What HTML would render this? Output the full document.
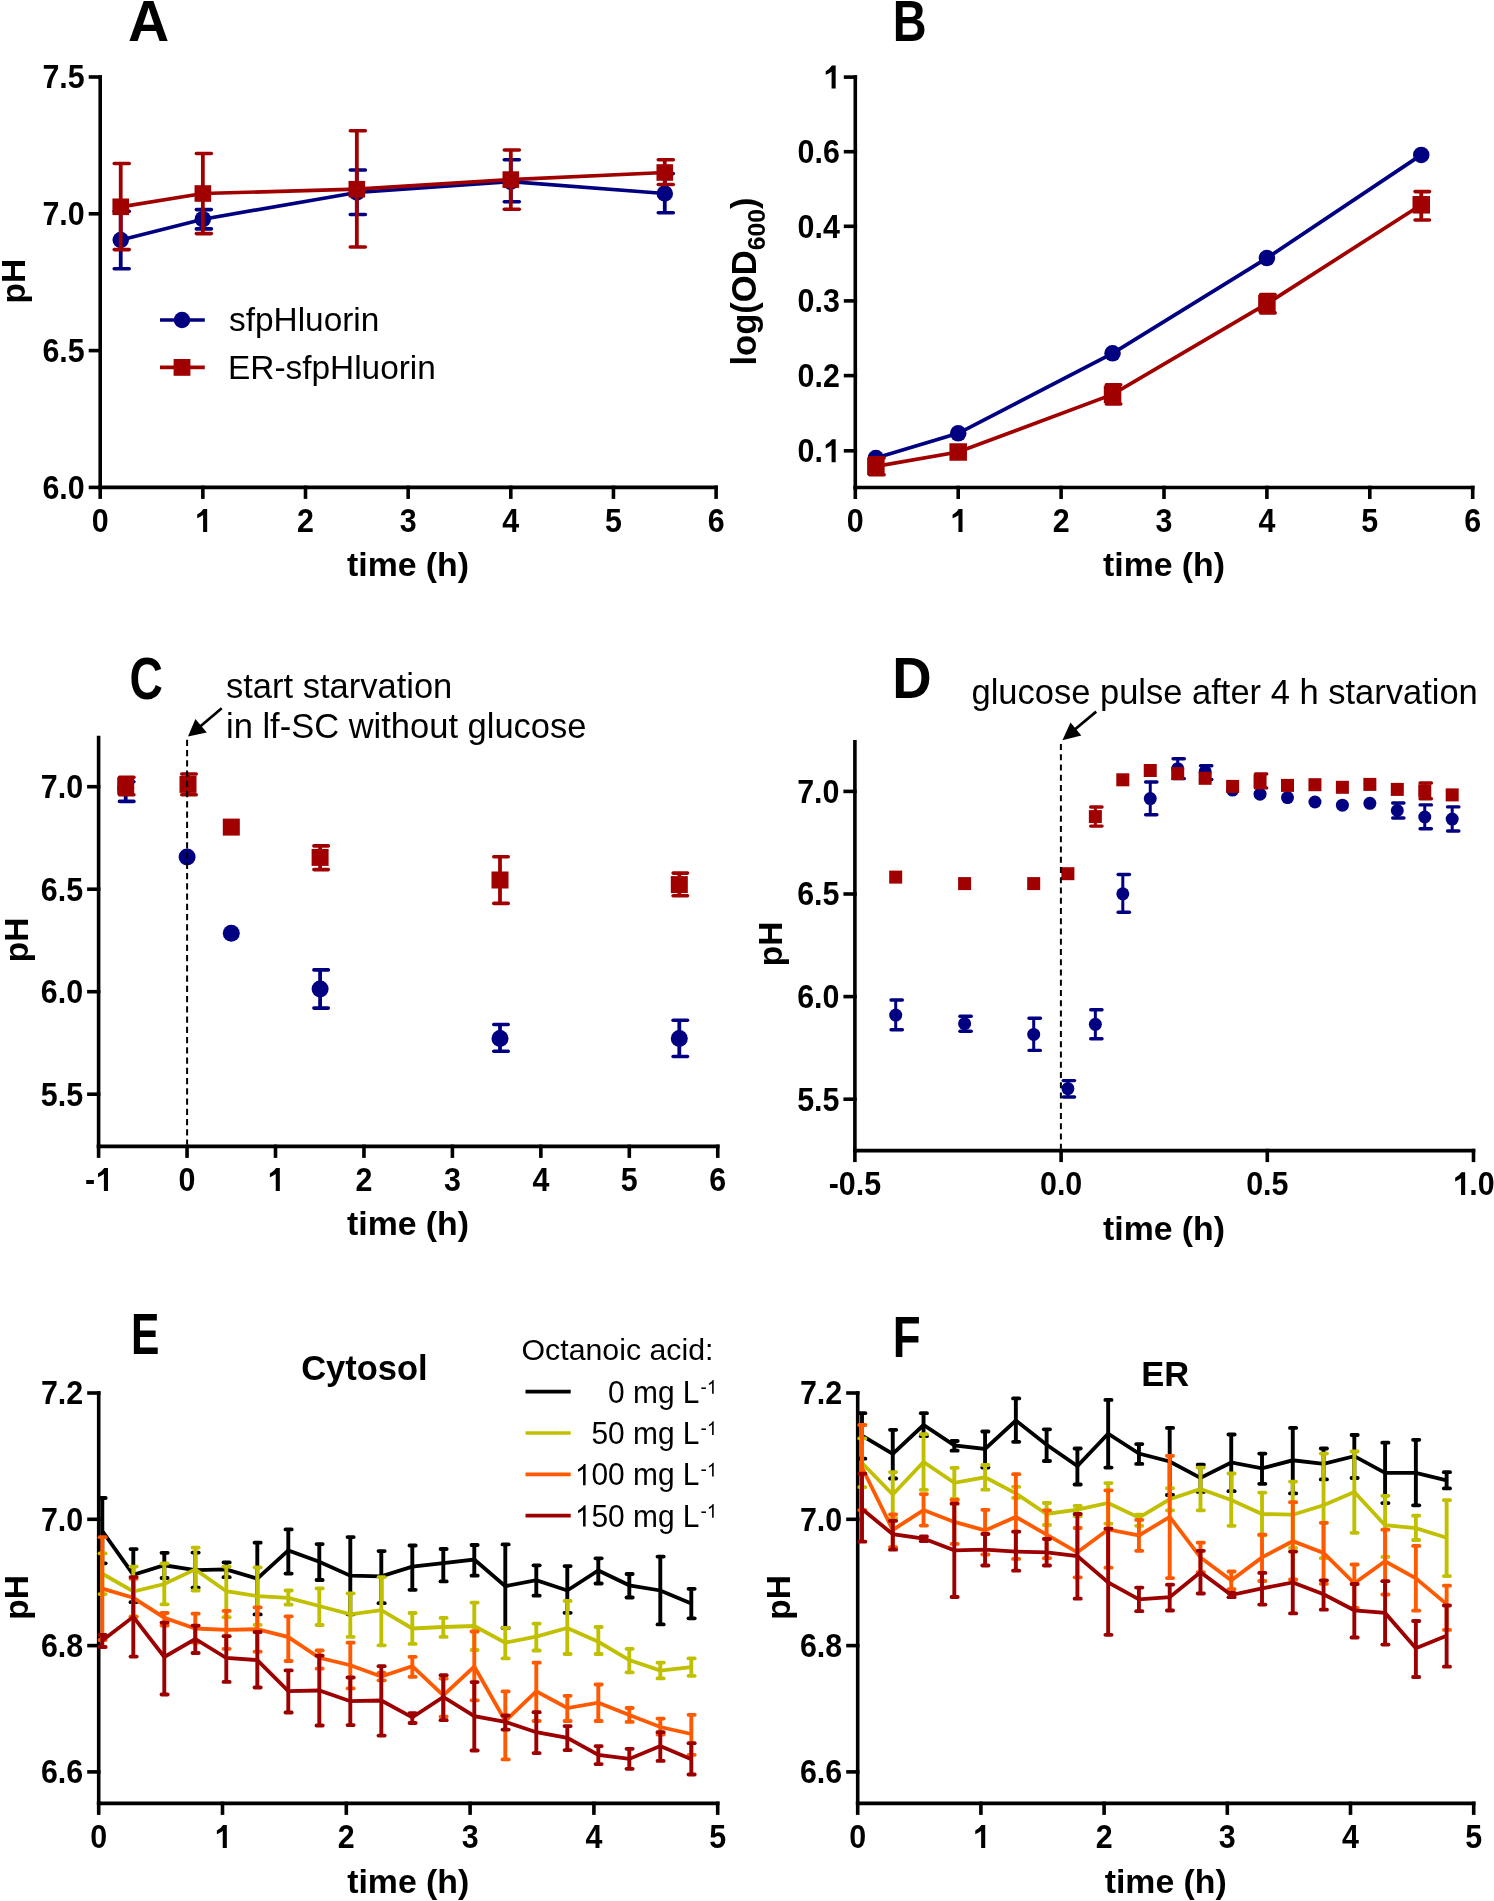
<!DOCTYPE html><html><head><meta charset="utf-8"><style>html,body{margin:0;padding:0;background:#fff;overflow:hidden}svg{display:block}text{font-family:"Liberation Sans",sans-serif}svg{will-change:transform}</style></head><body>
<svg width="1494" height="1901" viewBox="0 0 1494 1901">
<rect width="1494" height="1901" fill="#fff"/>
<text transform="translate(148.50 40.60)" font-size="57" font-weight="bold" text-anchor="middle" fill="#000">A</text>
<line x1="100.20" y1="75.20" x2="100.20" y2="489.20" stroke="#000" stroke-width="3.6" stroke-linecap="butt"/>
<line x1="88.70" y1="77.00" x2="102.00" y2="77.00" stroke="#000" stroke-width="3.6" stroke-linecap="butt"/>
<g transform="translate(84.70 88.40) scale(0.95 1.04)" fill="#000"><text x="-44.48" y="0" font-size="32" font-weight="bold" style="white-space:pre">7.5</text></g>
<line x1="88.70" y1="213.80" x2="102.00" y2="213.80" stroke="#000" stroke-width="3.6" stroke-linecap="butt"/>
<g transform="translate(84.70 225.20) scale(0.95 1.04)" fill="#000"><text x="-44.48" y="0" font-size="32" font-weight="bold" style="white-space:pre">7.0</text></g>
<line x1="88.70" y1="350.60" x2="102.00" y2="350.60" stroke="#000" stroke-width="3.6" stroke-linecap="butt"/>
<g transform="translate(84.70 362.00) scale(0.95 1.04)" fill="#000"><text x="-44.48" y="0" font-size="32" font-weight="bold" style="white-space:pre">6.5</text></g>
<line x1="88.70" y1="487.40" x2="102.00" y2="487.40" stroke="#000" stroke-width="3.6" stroke-linecap="butt"/>
<g transform="translate(84.70 498.80) scale(0.95 1.04)" fill="#000"><text x="-44.48" y="0" font-size="32" font-weight="bold" style="white-space:pre">6.0</text></g>
<line x1="98.40" y1="487.40" x2="717.90" y2="487.40" stroke="#000" stroke-width="3.6" stroke-linecap="butt"/>
<line x1="100.20" y1="485.60" x2="100.20" y2="498.90" stroke="#000" stroke-width="3.6" stroke-linecap="butt"/>
<g transform="translate(100.20 531.90) scale(0.95 1.04)" fill="#000"><text x="-8.90" y="0" font-size="32" font-weight="bold" style="white-space:pre">0</text></g>
<line x1="202.85" y1="485.60" x2="202.85" y2="498.90" stroke="#000" stroke-width="3.6" stroke-linecap="butt"/>
<g transform="translate(202.85 531.90) scale(0.95 1.04)" fill="#000"><path transform="translate(-8.90 0) scale(0.01562 -0.01562)" d="M861 0H586V1037Q400 930 190 842V1067Q474 1200 608 1409H861Z"/></g>
<line x1="305.50" y1="485.60" x2="305.50" y2="498.90" stroke="#000" stroke-width="3.6" stroke-linecap="butt"/>
<g transform="translate(305.50 531.90) scale(0.95 1.04)" fill="#000"><text x="-8.90" y="0" font-size="32" font-weight="bold" style="white-space:pre">2</text></g>
<line x1="408.15" y1="485.60" x2="408.15" y2="498.90" stroke="#000" stroke-width="3.6" stroke-linecap="butt"/>
<g transform="translate(408.15 531.90) scale(0.95 1.04)" fill="#000"><text x="-8.90" y="0" font-size="32" font-weight="bold" style="white-space:pre">3</text></g>
<line x1="510.80" y1="485.60" x2="510.80" y2="498.90" stroke="#000" stroke-width="3.6" stroke-linecap="butt"/>
<g transform="translate(510.80 531.90) scale(0.95 1.04)" fill="#000"><text x="-8.90" y="0" font-size="32" font-weight="bold" style="white-space:pre">4</text></g>
<line x1="613.45" y1="485.60" x2="613.45" y2="498.90" stroke="#000" stroke-width="3.6" stroke-linecap="butt"/>
<g transform="translate(613.45 531.90) scale(0.95 1.04)" fill="#000"><text x="-8.90" y="0" font-size="32" font-weight="bold" style="white-space:pre">5</text></g>
<line x1="716.10" y1="485.60" x2="716.10" y2="498.90" stroke="#000" stroke-width="3.6" stroke-linecap="butt"/>
<g transform="translate(716.10 531.90) scale(0.95 1.04)" fill="#000"><text x="-8.90" y="0" font-size="32" font-weight="bold" style="white-space:pre">6</text></g>
<text transform="translate(408.00 576.40)" font-size="33.8" font-weight="bold" text-anchor="middle" fill="#000">time (h)</text>
<text transform="translate(24.70 281.20) rotate(-90)" font-size="33.5" font-weight="bold" text-anchor="middle" fill="#000">pH</text>
<line x1="120.73" y1="211.30" x2="120.73" y2="268.70" stroke="#000080" stroke-width="3.8" stroke-linecap="butt"/>
<line x1="114.23" y1="211.30" x2="129.23" y2="211.30" stroke="#000080" stroke-width="3.6" stroke-linecap="round"/>
<line x1="114.23" y1="268.70" x2="129.23" y2="268.70" stroke="#000080" stroke-width="3.6" stroke-linecap="round"/>
<line x1="202.85" y1="209.60" x2="202.85" y2="228.90" stroke="#000080" stroke-width="3.8" stroke-linecap="butt"/>
<line x1="196.35" y1="209.60" x2="211.35" y2="209.60" stroke="#000080" stroke-width="3.6" stroke-linecap="round"/>
<line x1="196.35" y1="228.90" x2="211.35" y2="228.90" stroke="#000080" stroke-width="3.6" stroke-linecap="round"/>
<line x1="356.82" y1="170.00" x2="356.82" y2="214.50" stroke="#000080" stroke-width="3.8" stroke-linecap="butt"/>
<line x1="350.32" y1="170.00" x2="365.32" y2="170.00" stroke="#000080" stroke-width="3.6" stroke-linecap="round"/>
<line x1="350.32" y1="214.50" x2="365.32" y2="214.50" stroke="#000080" stroke-width="3.6" stroke-linecap="round"/>
<line x1="510.80" y1="159.70" x2="510.80" y2="201.70" stroke="#000080" stroke-width="3.8" stroke-linecap="butt"/>
<line x1="504.30" y1="159.70" x2="519.30" y2="159.70" stroke="#000080" stroke-width="3.6" stroke-linecap="round"/>
<line x1="504.30" y1="201.70" x2="519.30" y2="201.70" stroke="#000080" stroke-width="3.6" stroke-linecap="round"/>
<line x1="664.78" y1="173.60" x2="664.78" y2="212.80" stroke="#000080" stroke-width="3.8" stroke-linecap="butt"/>
<line x1="658.28" y1="173.60" x2="673.28" y2="173.60" stroke="#000080" stroke-width="3.6" stroke-linecap="round"/>
<line x1="658.28" y1="212.80" x2="673.28" y2="212.80" stroke="#000080" stroke-width="3.6" stroke-linecap="round"/>
<polyline points="120.73,240.00 202.85,219.20 356.82,192.50 510.80,181.70 664.78,193.50" fill="none" stroke="#000080" stroke-width="3.7" stroke-linejoin="miter" stroke-miterlimit="3"/>
<circle cx="120.73" cy="240.00" r="8.25" fill="#000080"/>
<circle cx="202.85" cy="219.20" r="8.25" fill="#000080"/>
<circle cx="356.82" cy="192.50" r="8.25" fill="#000080"/>
<circle cx="510.80" cy="181.70" r="8.25" fill="#000080"/>
<circle cx="664.78" cy="193.50" r="8.25" fill="#000080"/>
<line x1="120.73" y1="163.50" x2="120.73" y2="249.60" stroke="#a00000" stroke-width="3.8" stroke-linecap="butt"/>
<line x1="114.23" y1="163.50" x2="129.23" y2="163.50" stroke="#a00000" stroke-width="3.6" stroke-linecap="round"/>
<line x1="114.23" y1="249.60" x2="129.23" y2="249.60" stroke="#a00000" stroke-width="3.6" stroke-linecap="round"/>
<line x1="202.85" y1="153.50" x2="202.85" y2="233.60" stroke="#a00000" stroke-width="3.8" stroke-linecap="butt"/>
<line x1="196.35" y1="153.50" x2="211.35" y2="153.50" stroke="#a00000" stroke-width="3.6" stroke-linecap="round"/>
<line x1="196.35" y1="233.60" x2="211.35" y2="233.60" stroke="#a00000" stroke-width="3.6" stroke-linecap="round"/>
<line x1="356.82" y1="130.80" x2="356.82" y2="247.00" stroke="#a00000" stroke-width="3.8" stroke-linecap="butt"/>
<line x1="350.32" y1="130.80" x2="365.32" y2="130.80" stroke="#a00000" stroke-width="3.6" stroke-linecap="round"/>
<line x1="350.32" y1="247.00" x2="365.32" y2="247.00" stroke="#a00000" stroke-width="3.6" stroke-linecap="round"/>
<line x1="510.80" y1="150.00" x2="510.80" y2="209.20" stroke="#a00000" stroke-width="3.8" stroke-linecap="butt"/>
<line x1="504.30" y1="150.00" x2="519.30" y2="150.00" stroke="#a00000" stroke-width="3.6" stroke-linecap="round"/>
<line x1="504.30" y1="209.20" x2="519.30" y2="209.20" stroke="#a00000" stroke-width="3.6" stroke-linecap="round"/>
<line x1="664.78" y1="159.70" x2="664.78" y2="184.50" stroke="#a00000" stroke-width="3.8" stroke-linecap="butt"/>
<line x1="658.28" y1="159.70" x2="673.28" y2="159.70" stroke="#a00000" stroke-width="3.6" stroke-linecap="round"/>
<line x1="658.28" y1="184.50" x2="673.28" y2="184.50" stroke="#a00000" stroke-width="3.6" stroke-linecap="round"/>
<polyline points="120.73,206.80 202.85,193.50 356.82,189.20 510.80,179.60 664.78,172.50" fill="none" stroke="#a00000" stroke-width="3.7" stroke-linejoin="miter" stroke-miterlimit="3"/>
<rect x="112.43" y="198.50" width="16.60" height="16.60" fill="#a00000"/>
<rect x="194.55" y="185.20" width="16.60" height="16.60" fill="#a00000"/>
<rect x="348.52" y="180.90" width="16.60" height="16.60" fill="#a00000"/>
<rect x="502.50" y="171.30" width="16.60" height="16.60" fill="#a00000"/>
<rect x="656.48" y="164.20" width="16.60" height="16.60" fill="#a00000"/>
<line x1="160.00" y1="320.00" x2="204.80" y2="320.00" stroke="#000080" stroke-width="3.5" stroke-linecap="butt"/>
<circle cx="182.00" cy="320.00" r="8.25" fill="#000080"/>
<line x1="160.00" y1="367.40" x2="204.80" y2="367.40" stroke="#a00000" stroke-width="3.6" stroke-linecap="butt"/>
<rect x="173.60" y="359.00" width="16.80" height="16.80" fill="#a00000"/>
<text transform="translate(229.00 330.80)" font-size="33.4" font-weight="normal" text-anchor="start" fill="#000">sfpHluorin</text>
<text transform="translate(228.00 378.60)" font-size="33.4" font-weight="normal" text-anchor="start" fill="#000">ER-sfpHluorin</text>
<text transform="translate(909.70 41.20) scale(0.823 1.0)" font-size="57" font-weight="bold" text-anchor="middle" fill="#000">B</text>
<line x1="855.30" y1="75.30" x2="855.30" y2="489.30" stroke="#000" stroke-width="3.6" stroke-linecap="butt"/>
<line x1="843.80" y1="77.10" x2="857.10" y2="77.10" stroke="#000" stroke-width="3.6" stroke-linecap="butt"/>
<g transform="translate(839.80 88.50) scale(0.95 1.04)" fill="#000"><path transform="translate(-17.80 0) scale(0.01562 -0.01562)" d="M861 0H586V1037Q400 930 190 842V1067Q474 1200 608 1409H861Z"/></g>
<line x1="843.80" y1="151.70" x2="857.10" y2="151.70" stroke="#000" stroke-width="3.6" stroke-linecap="butt"/>
<g transform="translate(839.80 163.10) scale(0.95 1.04)" fill="#000"><text x="-44.48" y="0" font-size="32" font-weight="bold" style="white-space:pre">0.6</text></g>
<line x1="843.80" y1="226.30" x2="857.10" y2="226.30" stroke="#000" stroke-width="3.6" stroke-linecap="butt"/>
<g transform="translate(839.80 237.70) scale(0.95 1.04)" fill="#000"><text x="-44.48" y="0" font-size="32" font-weight="bold" style="white-space:pre">0.4</text></g>
<line x1="843.80" y1="300.90" x2="857.10" y2="300.90" stroke="#000" stroke-width="3.6" stroke-linecap="butt"/>
<g transform="translate(839.80 312.30) scale(0.95 1.04)" fill="#000"><text x="-44.48" y="0" font-size="32" font-weight="bold" style="white-space:pre">0.3</text></g>
<line x1="843.80" y1="375.60" x2="857.10" y2="375.60" stroke="#000" stroke-width="3.6" stroke-linecap="butt"/>
<g transform="translate(839.80 387.00) scale(0.95 1.04)" fill="#000"><text x="-44.48" y="0" font-size="32" font-weight="bold" style="white-space:pre">0.2</text></g>
<line x1="843.80" y1="450.80" x2="857.10" y2="450.80" stroke="#000" stroke-width="3.6" stroke-linecap="butt"/>
<g transform="translate(839.80 462.20) scale(0.95 1.04)" fill="#000"><text x="-44.48" y="0" font-size="32" font-weight="bold" style="white-space:pre">0.</text><path transform="translate(-17.80 0) scale(0.01562 -0.01562)" d="M861 0H586V1037Q400 930 190 842V1067Q474 1200 608 1409H861Z"/></g>
<line x1="853.50" y1="487.50" x2="1474.50" y2="487.50" stroke="#000" stroke-width="3.6" stroke-linecap="butt"/>
<line x1="855.30" y1="485.70" x2="855.30" y2="499.00" stroke="#000" stroke-width="3.6" stroke-linecap="butt"/>
<g transform="translate(855.30 532.00) scale(0.95 1.04)" fill="#000"><text x="-8.90" y="0" font-size="32" font-weight="bold" style="white-space:pre">0</text></g>
<line x1="958.20" y1="485.70" x2="958.20" y2="499.00" stroke="#000" stroke-width="3.6" stroke-linecap="butt"/>
<g transform="translate(958.20 532.00) scale(0.95 1.04)" fill="#000"><path transform="translate(-8.90 0) scale(0.01562 -0.01562)" d="M861 0H586V1037Q400 930 190 842V1067Q474 1200 608 1409H861Z"/></g>
<line x1="1061.10" y1="485.70" x2="1061.10" y2="499.00" stroke="#000" stroke-width="3.6" stroke-linecap="butt"/>
<g transform="translate(1061.10 532.00) scale(0.95 1.04)" fill="#000"><text x="-8.90" y="0" font-size="32" font-weight="bold" style="white-space:pre">2</text></g>
<line x1="1164.00" y1="485.70" x2="1164.00" y2="499.00" stroke="#000" stroke-width="3.6" stroke-linecap="butt"/>
<g transform="translate(1164.00 532.00) scale(0.95 1.04)" fill="#000"><text x="-8.90" y="0" font-size="32" font-weight="bold" style="white-space:pre">3</text></g>
<line x1="1266.90" y1="485.70" x2="1266.90" y2="499.00" stroke="#000" stroke-width="3.6" stroke-linecap="butt"/>
<g transform="translate(1266.90 532.00) scale(0.95 1.04)" fill="#000"><text x="-8.90" y="0" font-size="32" font-weight="bold" style="white-space:pre">4</text></g>
<line x1="1369.80" y1="485.70" x2="1369.80" y2="499.00" stroke="#000" stroke-width="3.6" stroke-linecap="butt"/>
<g transform="translate(1369.80 532.00) scale(0.95 1.04)" fill="#000"><text x="-8.90" y="0" font-size="32" font-weight="bold" style="white-space:pre">5</text></g>
<line x1="1472.70" y1="485.70" x2="1472.70" y2="499.00" stroke="#000" stroke-width="3.6" stroke-linecap="butt"/>
<g transform="translate(1472.70 532.00) scale(0.95 1.04)" fill="#000"><text x="-8.90" y="0" font-size="32" font-weight="bold" style="white-space:pre">6</text></g>
<text transform="translate(1164.00 576.40)" font-size="33.8" font-weight="bold" text-anchor="middle" fill="#000">time (h)</text>
<text transform="translate(756.2 281.5) rotate(-90)" font-size="34.6" font-weight="bold" text-anchor="middle">log(OD<tspan font-size="24.8" dy="8.7">600</tspan><tspan dy="-8.7">)</tspan></text>
<polyline points="875.88,458.00 958.20,433.30 1112.55,353.30 1266.90,258.10 1421.25,154.90" fill="none" stroke="#000080" stroke-width="3.7" stroke-linejoin="miter" stroke-miterlimit="3"/>
<circle cx="875.88" cy="458.00" r="8.25" fill="#000080"/>
<circle cx="958.20" cy="433.30" r="8.25" fill="#000080"/>
<circle cx="1112.55" cy="353.30" r="8.25" fill="#000080"/>
<circle cx="1266.90" cy="258.10" r="8.25" fill="#000080"/>
<circle cx="1421.25" cy="154.90" r="8.25" fill="#000080"/>
<line x1="875.88" y1="457.90" x2="875.88" y2="474.80" stroke="#a00000" stroke-width="3.8" stroke-linecap="butt"/>
<line x1="869.68" y1="457.90" x2="884.08" y2="457.90" stroke="#a00000" stroke-width="3.6" stroke-linecap="round"/>
<line x1="869.68" y1="474.80" x2="884.08" y2="474.80" stroke="#a00000" stroke-width="3.6" stroke-linecap="round"/>
<line x1="1112.55" y1="384.80" x2="1112.55" y2="404.00" stroke="#a00000" stroke-width="3.8" stroke-linecap="butt"/>
<line x1="1106.35" y1="384.80" x2="1120.75" y2="384.80" stroke="#a00000" stroke-width="3.6" stroke-linecap="round"/>
<line x1="1106.35" y1="404.00" x2="1120.75" y2="404.00" stroke="#a00000" stroke-width="3.6" stroke-linecap="round"/>
<line x1="1266.90" y1="294.60" x2="1266.90" y2="312.90" stroke="#a00000" stroke-width="3.8" stroke-linecap="butt"/>
<line x1="1260.70" y1="294.60" x2="1275.10" y2="294.60" stroke="#a00000" stroke-width="3.6" stroke-linecap="round"/>
<line x1="1260.70" y1="312.90" x2="1275.10" y2="312.90" stroke="#a00000" stroke-width="3.6" stroke-linecap="round"/>
<line x1="1421.25" y1="191.60" x2="1421.25" y2="220.00" stroke="#a00000" stroke-width="3.8" stroke-linecap="butt"/>
<line x1="1415.05" y1="191.60" x2="1429.45" y2="191.60" stroke="#a00000" stroke-width="3.6" stroke-linecap="round"/>
<line x1="1415.05" y1="220.00" x2="1429.45" y2="220.00" stroke="#a00000" stroke-width="3.6" stroke-linecap="round"/>
<polyline points="875.88,466.40 958.20,452.00 1112.55,394.40 1266.90,303.70 1421.25,204.80" fill="none" stroke="#a00000" stroke-width="3.7" stroke-linejoin="miter" stroke-miterlimit="3"/>
<rect x="867.13" y="457.65" width="17.50" height="17.50" fill="#a00000"/>
<rect x="949.45" y="443.25" width="17.50" height="17.50" fill="#a00000"/>
<rect x="1103.80" y="385.65" width="17.50" height="17.50" fill="#a00000"/>
<rect x="1258.15" y="294.95" width="17.50" height="17.50" fill="#a00000"/>
<rect x="1412.50" y="196.05" width="17.50" height="17.50" fill="#a00000"/>
<text transform="translate(146.20 698.90) scale(0.81 1.03)" font-size="57" font-weight="bold" text-anchor="middle" fill="#000">C</text>
<line x1="98.60" y1="735.70" x2="98.60" y2="1148.20" stroke="#000" stroke-width="3.6" stroke-linecap="butt"/>
<line x1="87.10" y1="786.70" x2="100.40" y2="786.70" stroke="#000" stroke-width="3.6" stroke-linecap="butt"/>
<g transform="translate(83.10 798.10) scale(0.95 1.04)" fill="#000"><text x="-44.48" y="0" font-size="32" font-weight="bold" style="white-space:pre">7.0</text></g>
<line x1="87.10" y1="889.20" x2="100.40" y2="889.20" stroke="#000" stroke-width="3.6" stroke-linecap="butt"/>
<g transform="translate(83.10 900.60) scale(0.95 1.04)" fill="#000"><text x="-44.48" y="0" font-size="32" font-weight="bold" style="white-space:pre">6.5</text></g>
<line x1="87.10" y1="991.70" x2="100.40" y2="991.70" stroke="#000" stroke-width="3.6" stroke-linecap="butt"/>
<g transform="translate(83.10 1003.10) scale(0.95 1.04)" fill="#000"><text x="-44.48" y="0" font-size="32" font-weight="bold" style="white-space:pre">6.0</text></g>
<line x1="87.10" y1="1094.20" x2="100.40" y2="1094.20" stroke="#000" stroke-width="3.6" stroke-linecap="butt"/>
<g transform="translate(83.10 1105.60) scale(0.95 1.04)" fill="#000"><text x="-44.48" y="0" font-size="32" font-weight="bold" style="white-space:pre">5.5</text></g>
<line x1="96.80" y1="1146.40" x2="719.55" y2="1146.40" stroke="#000" stroke-width="3.6" stroke-linecap="butt"/>
<line x1="98.60" y1="1144.60" x2="98.60" y2="1157.90" stroke="#000" stroke-width="3.6" stroke-linecap="butt"/>
<g transform="translate(98.60 1190.90) scale(0.95 1.04)" fill="#000"><text x="-14.23" y="0" font-size="32" font-weight="bold" style="white-space:pre">-</text><path transform="translate(-3.57 0) scale(0.01562 -0.01562)" d="M861 0H586V1037Q400 930 190 842V1067Q474 1200 608 1409H861Z"/></g>
<line x1="187.05" y1="1144.60" x2="187.05" y2="1157.90" stroke="#000" stroke-width="3.6" stroke-linecap="butt"/>
<g transform="translate(187.05 1190.90) scale(0.95 1.04)" fill="#000"><text x="-8.90" y="0" font-size="32" font-weight="bold" style="white-space:pre">0</text></g>
<line x1="275.50" y1="1144.60" x2="275.50" y2="1157.90" stroke="#000" stroke-width="3.6" stroke-linecap="butt"/>
<g transform="translate(275.50 1190.90) scale(0.95 1.04)" fill="#000"><path transform="translate(-8.90 0) scale(0.01562 -0.01562)" d="M861 0H586V1037Q400 930 190 842V1067Q474 1200 608 1409H861Z"/></g>
<line x1="363.95" y1="1144.60" x2="363.95" y2="1157.90" stroke="#000" stroke-width="3.6" stroke-linecap="butt"/>
<g transform="translate(363.95 1190.90) scale(0.95 1.04)" fill="#000"><text x="-8.90" y="0" font-size="32" font-weight="bold" style="white-space:pre">2</text></g>
<line x1="452.40" y1="1144.60" x2="452.40" y2="1157.90" stroke="#000" stroke-width="3.6" stroke-linecap="butt"/>
<g transform="translate(452.40 1190.90) scale(0.95 1.04)" fill="#000"><text x="-8.90" y="0" font-size="32" font-weight="bold" style="white-space:pre">3</text></g>
<line x1="540.85" y1="1144.60" x2="540.85" y2="1157.90" stroke="#000" stroke-width="3.6" stroke-linecap="butt"/>
<g transform="translate(540.85 1190.90) scale(0.95 1.04)" fill="#000"><text x="-8.90" y="0" font-size="32" font-weight="bold" style="white-space:pre">4</text></g>
<line x1="629.30" y1="1144.60" x2="629.30" y2="1157.90" stroke="#000" stroke-width="3.6" stroke-linecap="butt"/>
<g transform="translate(629.30 1190.90) scale(0.95 1.04)" fill="#000"><text x="-8.90" y="0" font-size="32" font-weight="bold" style="white-space:pre">5</text></g>
<line x1="717.75" y1="1144.60" x2="717.75" y2="1157.90" stroke="#000" stroke-width="3.6" stroke-linecap="butt"/>
<g transform="translate(717.75 1190.90) scale(0.95 1.04)" fill="#000"><text x="-8.90" y="0" font-size="32" font-weight="bold" style="white-space:pre">6</text></g>
<text transform="translate(408.00 1235.20)" font-size="33.8" font-weight="bold" text-anchor="middle" fill="#000">time (h)</text>
<text transform="translate(27.90 940.00) rotate(-90)" font-size="33.5" font-weight="bold" text-anchor="middle" fill="#000">pH</text>
<line x1="221.7" y1="708.2" x2="199" y2="727.5" stroke="#000" stroke-width="2.7"/>
<polygon points="188,736.6 195.4,718.9 206.8,732.5" fill="#000"/>
<text transform="translate(226.00 697.50)" font-size="34.5" font-weight="normal" text-anchor="start" fill="#000">start starvation</text>
<text transform="translate(226.00 738.40)" font-size="34.5" font-weight="normal" text-anchor="start" fill="#000">in lf-SC without glucose</text>
<line x1="125.70" y1="781.80" x2="125.70" y2="801.40" stroke="#000080" stroke-width="3.8" stroke-linecap="butt"/>
<line x1="119.50" y1="781.80" x2="133.90" y2="781.80" stroke="#000080" stroke-width="3.6" stroke-linecap="round"/>
<line x1="119.50" y1="801.40" x2="133.90" y2="801.40" stroke="#000080" stroke-width="3.6" stroke-linecap="round"/>
<circle cx="125.70" cy="788.00" r="8.50" fill="#000080"/>
<circle cx="187.10" cy="857.00" r="8.50" fill="#000080"/>
<circle cx="231.30" cy="933.30" r="8.50" fill="#000080"/>
<line x1="320.10" y1="969.90" x2="320.10" y2="1008.10" stroke="#000080" stroke-width="3.8" stroke-linecap="butt"/>
<line x1="313.90" y1="969.90" x2="328.30" y2="969.90" stroke="#000080" stroke-width="3.6" stroke-linecap="round"/>
<line x1="313.90" y1="1008.10" x2="328.30" y2="1008.10" stroke="#000080" stroke-width="3.6" stroke-linecap="round"/>
<circle cx="320.10" cy="989.00" r="8.50" fill="#000080"/>
<line x1="500.00" y1="1024.50" x2="500.00" y2="1051.30" stroke="#000080" stroke-width="3.8" stroke-linecap="butt"/>
<line x1="493.80" y1="1024.50" x2="508.20" y2="1024.50" stroke="#000080" stroke-width="3.6" stroke-linecap="round"/>
<line x1="493.80" y1="1051.30" x2="508.20" y2="1051.30" stroke="#000080" stroke-width="3.6" stroke-linecap="round"/>
<circle cx="500.00" cy="1038.40" r="8.50" fill="#000080"/>
<line x1="679.30" y1="1020.30" x2="679.30" y2="1056.50" stroke="#000080" stroke-width="3.8" stroke-linecap="butt"/>
<line x1="673.10" y1="1020.30" x2="687.50" y2="1020.30" stroke="#000080" stroke-width="3.6" stroke-linecap="round"/>
<line x1="673.10" y1="1056.50" x2="687.50" y2="1056.50" stroke="#000080" stroke-width="3.6" stroke-linecap="round"/>
<circle cx="679.30" cy="1038.40" r="8.50" fill="#000080"/>
<line x1="125.70" y1="777.30" x2="125.70" y2="794.80" stroke="#a00000" stroke-width="3.8" stroke-linecap="butt"/>
<line x1="119.50" y1="777.30" x2="133.90" y2="777.30" stroke="#a00000" stroke-width="3.6" stroke-linecap="round"/>
<line x1="119.50" y1="794.80" x2="133.90" y2="794.80" stroke="#a00000" stroke-width="3.6" stroke-linecap="round"/>
<rect x="117.20" y="777.50" width="17.00" height="17.00" fill="#a00000"/>
<line x1="188.00" y1="774.00" x2="188.00" y2="794.80" stroke="#a00000" stroke-width="3.8" stroke-linecap="butt"/>
<line x1="181.80" y1="774.00" x2="196.20" y2="774.00" stroke="#a00000" stroke-width="3.6" stroke-linecap="round"/>
<line x1="181.80" y1="794.80" x2="196.20" y2="794.80" stroke="#a00000" stroke-width="3.6" stroke-linecap="round"/>
<rect x="179.50" y="775.90" width="17.00" height="17.00" fill="#a00000"/>
<rect x="222.80" y="818.60" width="17.00" height="17.00" fill="#a00000"/>
<line x1="320.10" y1="845.90" x2="320.10" y2="869.60" stroke="#a00000" stroke-width="3.8" stroke-linecap="butt"/>
<line x1="313.90" y1="845.90" x2="328.30" y2="845.90" stroke="#a00000" stroke-width="3.6" stroke-linecap="round"/>
<line x1="313.90" y1="869.60" x2="328.30" y2="869.60" stroke="#a00000" stroke-width="3.6" stroke-linecap="round"/>
<rect x="311.60" y="848.90" width="17.00" height="17.00" fill="#a00000"/>
<line x1="500.00" y1="856.70" x2="500.00" y2="903.40" stroke="#a00000" stroke-width="3.8" stroke-linecap="butt"/>
<line x1="493.80" y1="856.70" x2="508.20" y2="856.70" stroke="#a00000" stroke-width="3.6" stroke-linecap="round"/>
<line x1="493.80" y1="903.40" x2="508.20" y2="903.40" stroke="#a00000" stroke-width="3.6" stroke-linecap="round"/>
<rect x="491.50" y="871.50" width="17.00" height="17.00" fill="#a00000"/>
<line x1="679.30" y1="873.10" x2="679.30" y2="895.70" stroke="#a00000" stroke-width="3.8" stroke-linecap="butt"/>
<line x1="673.10" y1="873.10" x2="687.50" y2="873.10" stroke="#a00000" stroke-width="3.6" stroke-linecap="round"/>
<line x1="673.10" y1="895.70" x2="687.50" y2="895.70" stroke="#a00000" stroke-width="3.6" stroke-linecap="round"/>
<rect x="670.80" y="876.10" width="17.00" height="17.00" fill="#a00000"/>
<line x1="187.10" y1="739.80" x2="187.10" y2="1144.60" stroke="#000" stroke-width="2.0" stroke-linecap="butt" stroke-dasharray="6.1 4.15"/>
<text transform="translate(912.00 698.00) scale(0.957 1.0)" font-size="57" font-weight="bold" text-anchor="middle" fill="#000">D</text>
<line x1="854.90" y1="740.00" x2="854.90" y2="1152.40" stroke="#000" stroke-width="3.6" stroke-linecap="butt"/>
<line x1="843.40" y1="791.40" x2="856.70" y2="791.40" stroke="#000" stroke-width="3.6" stroke-linecap="butt"/>
<g transform="translate(839.40 802.80) scale(0.95 1.04)" fill="#000"><text x="-44.48" y="0" font-size="32" font-weight="bold" style="white-space:pre">7.0</text></g>
<line x1="843.40" y1="894.00" x2="856.70" y2="894.00" stroke="#000" stroke-width="3.6" stroke-linecap="butt"/>
<g transform="translate(839.40 905.40) scale(0.95 1.04)" fill="#000"><text x="-44.48" y="0" font-size="32" font-weight="bold" style="white-space:pre">6.5</text></g>
<line x1="843.40" y1="996.60" x2="856.70" y2="996.60" stroke="#000" stroke-width="3.6" stroke-linecap="butt"/>
<g transform="translate(839.40 1008.00) scale(0.95 1.04)" fill="#000"><text x="-44.48" y="0" font-size="32" font-weight="bold" style="white-space:pre">6.0</text></g>
<line x1="843.40" y1="1099.20" x2="856.70" y2="1099.20" stroke="#000" stroke-width="3.6" stroke-linecap="butt"/>
<g transform="translate(839.40 1110.60) scale(0.95 1.04)" fill="#000"><text x="-44.48" y="0" font-size="32" font-weight="bold" style="white-space:pre">5.5</text></g>
<line x1="853.10" y1="1150.60" x2="1475.30" y2="1150.60" stroke="#000" stroke-width="3.6" stroke-linecap="butt"/>
<line x1="854.90" y1="1148.80" x2="854.90" y2="1162.10" stroke="#000" stroke-width="3.6" stroke-linecap="butt"/>
<g transform="translate(854.90 1195.10) scale(0.95 1.04)" fill="#000"><text x="-27.57" y="0" font-size="32" font-weight="bold" style="white-space:pre">-0.5</text></g>
<line x1="1061.10" y1="1148.80" x2="1061.10" y2="1162.10" stroke="#000" stroke-width="3.6" stroke-linecap="butt"/>
<g transform="translate(1061.10 1195.10) scale(0.95 1.04)" fill="#000"><text x="-22.24" y="0" font-size="32" font-weight="bold" style="white-space:pre">0.0</text></g>
<line x1="1267.30" y1="1148.80" x2="1267.30" y2="1162.10" stroke="#000" stroke-width="3.6" stroke-linecap="butt"/>
<g transform="translate(1267.30 1195.10) scale(0.95 1.04)" fill="#000"><text x="-22.24" y="0" font-size="32" font-weight="bold" style="white-space:pre">0.5</text></g>
<line x1="1473.50" y1="1148.80" x2="1473.50" y2="1162.10" stroke="#000" stroke-width="3.6" stroke-linecap="butt"/>
<g transform="translate(1473.50 1195.10) scale(0.95 1.04)" fill="#000"><path transform="translate(-22.24 0) scale(0.01562 -0.01562)" d="M861 0H586V1037Q400 930 190 842V1067Q474 1200 608 1409H861Z"/><text x="-4.45" y="0" font-size="32" font-weight="bold" style="white-space:pre">.0</text></g>
<text transform="translate(1164.00 1239.70)" font-size="33.8" font-weight="bold" text-anchor="middle" fill="#000">time (h)</text>
<text transform="translate(781.50 944.00) rotate(-90)" font-size="33.5" font-weight="bold" text-anchor="middle" fill="#000">pH</text>
<line x1="1096.2" y1="711.6" x2="1073" y2="731" stroke="#000" stroke-width="2.7"/>
<polygon points="1062.4,740.2 1070.5,722.5 1081.3,735.5" fill="#000"/>
<text transform="translate(971.50 704.30)" font-size="34.5" font-weight="normal" text-anchor="start" fill="#000">glucose pulse after 4 h starvation</text>
<line x1="895.70" y1="1000.00" x2="895.70" y2="1029.80" stroke="#000080" stroke-width="3.0" stroke-linecap="butt"/>
<line x1="891.05" y1="1000.00" x2="902.35" y2="1000.00" stroke="#000080" stroke-width="3.4" stroke-linecap="round"/>
<line x1="891.05" y1="1029.80" x2="902.35" y2="1029.80" stroke="#000080" stroke-width="3.4" stroke-linecap="round"/>
<circle cx="895.70" cy="1015.10" r="6.50" fill="#000080"/>
<line x1="964.60" y1="1016.30" x2="964.60" y2="1031.20" stroke="#000080" stroke-width="3.0" stroke-linecap="butt"/>
<line x1="959.95" y1="1016.30" x2="971.25" y2="1016.30" stroke="#000080" stroke-width="3.4" stroke-linecap="round"/>
<line x1="959.95" y1="1031.20" x2="971.25" y2="1031.20" stroke="#000080" stroke-width="3.4" stroke-linecap="round"/>
<circle cx="964.60" cy="1023.70" r="6.50" fill="#000080"/>
<line x1="1033.70" y1="1018.30" x2="1033.70" y2="1050.40" stroke="#000080" stroke-width="3.0" stroke-linecap="butt"/>
<line x1="1029.05" y1="1018.30" x2="1040.35" y2="1018.30" stroke="#000080" stroke-width="3.4" stroke-linecap="round"/>
<line x1="1029.05" y1="1050.40" x2="1040.35" y2="1050.40" stroke="#000080" stroke-width="3.4" stroke-linecap="round"/>
<circle cx="1033.70" cy="1034.40" r="6.50" fill="#000080"/>
<line x1="1067.90" y1="1080.60" x2="1067.90" y2="1097.00" stroke="#000080" stroke-width="3.0" stroke-linecap="butt"/>
<line x1="1063.25" y1="1080.60" x2="1074.55" y2="1080.60" stroke="#000080" stroke-width="3.4" stroke-linecap="round"/>
<line x1="1063.25" y1="1097.00" x2="1074.55" y2="1097.00" stroke="#000080" stroke-width="3.4" stroke-linecap="round"/>
<circle cx="1067.90" cy="1088.60" r="6.50" fill="#000080"/>
<line x1="1095.35" y1="1009.70" x2="1095.35" y2="1038.80" stroke="#000080" stroke-width="3.0" stroke-linecap="butt"/>
<line x1="1090.70" y1="1009.70" x2="1102.00" y2="1009.70" stroke="#000080" stroke-width="3.4" stroke-linecap="round"/>
<line x1="1090.70" y1="1038.80" x2="1102.00" y2="1038.80" stroke="#000080" stroke-width="3.4" stroke-linecap="round"/>
<circle cx="1095.35" cy="1024.30" r="6.50" fill="#000080"/>
<line x1="1122.80" y1="874.50" x2="1122.80" y2="912.30" stroke="#000080" stroke-width="3.0" stroke-linecap="butt"/>
<line x1="1118.15" y1="874.50" x2="1129.45" y2="874.50" stroke="#000080" stroke-width="3.4" stroke-linecap="round"/>
<line x1="1118.15" y1="912.30" x2="1129.45" y2="912.30" stroke="#000080" stroke-width="3.4" stroke-linecap="round"/>
<circle cx="1122.80" cy="893.80" r="6.50" fill="#000080"/>
<line x1="1150.25" y1="782.00" x2="1150.25" y2="814.80" stroke="#000080" stroke-width="3.0" stroke-linecap="butt"/>
<line x1="1145.60" y1="782.00" x2="1156.90" y2="782.00" stroke="#000080" stroke-width="3.4" stroke-linecap="round"/>
<line x1="1145.60" y1="814.80" x2="1156.90" y2="814.80" stroke="#000080" stroke-width="3.4" stroke-linecap="round"/>
<circle cx="1150.25" cy="798.60" r="6.50" fill="#000080"/>
<line x1="1177.70" y1="758.80" x2="1177.70" y2="778.60" stroke="#000080" stroke-width="3.0" stroke-linecap="butt"/>
<line x1="1173.05" y1="758.80" x2="1184.35" y2="758.80" stroke="#000080" stroke-width="3.4" stroke-linecap="round"/>
<line x1="1173.05" y1="778.60" x2="1184.35" y2="778.60" stroke="#000080" stroke-width="3.4" stroke-linecap="round"/>
<circle cx="1177.70" cy="768.70" r="6.50" fill="#000080"/>
<line x1="1205.15" y1="765.80" x2="1205.15" y2="779.50" stroke="#000080" stroke-width="3.0" stroke-linecap="butt"/>
<line x1="1200.50" y1="765.80" x2="1211.80" y2="765.80" stroke="#000080" stroke-width="3.4" stroke-linecap="round"/>
<line x1="1200.50" y1="779.50" x2="1211.80" y2="779.50" stroke="#000080" stroke-width="3.4" stroke-linecap="round"/>
<circle cx="1205.15" cy="771.70" r="6.50" fill="#000080"/>
<circle cx="1232.60" cy="790.10" r="6.50" fill="#000080"/>
<circle cx="1260.05" cy="794.20" r="6.50" fill="#000080"/>
<circle cx="1287.50" cy="797.60" r="6.50" fill="#000080"/>
<circle cx="1314.95" cy="802.00" r="6.50" fill="#000080"/>
<circle cx="1342.40" cy="805.20" r="6.50" fill="#000080"/>
<circle cx="1369.85" cy="803.30" r="6.50" fill="#000080"/>
<line x1="1397.30" y1="803.00" x2="1397.30" y2="818.00" stroke="#000080" stroke-width="3.0" stroke-linecap="butt"/>
<line x1="1392.65" y1="803.00" x2="1403.95" y2="803.00" stroke="#000080" stroke-width="3.4" stroke-linecap="round"/>
<line x1="1392.65" y1="818.00" x2="1403.95" y2="818.00" stroke="#000080" stroke-width="3.4" stroke-linecap="round"/>
<circle cx="1397.30" cy="810.50" r="6.50" fill="#000080"/>
<line x1="1424.75" y1="804.90" x2="1424.75" y2="828.80" stroke="#000080" stroke-width="3.0" stroke-linecap="butt"/>
<line x1="1420.10" y1="804.90" x2="1431.40" y2="804.90" stroke="#000080" stroke-width="3.4" stroke-linecap="round"/>
<line x1="1420.10" y1="828.80" x2="1431.40" y2="828.80" stroke="#000080" stroke-width="3.4" stroke-linecap="round"/>
<circle cx="1424.75" cy="817.00" r="6.50" fill="#000080"/>
<line x1="1452.20" y1="806.90" x2="1452.20" y2="831.00" stroke="#000080" stroke-width="3.0" stroke-linecap="butt"/>
<line x1="1447.55" y1="806.90" x2="1458.85" y2="806.90" stroke="#000080" stroke-width="3.4" stroke-linecap="round"/>
<line x1="1447.55" y1="831.00" x2="1458.85" y2="831.00" stroke="#000080" stroke-width="3.4" stroke-linecap="round"/>
<circle cx="1452.20" cy="819.10" r="6.50" fill="#000080"/>
<rect x="889.20" y="870.60" width="13.00" height="13.00" fill="#a00000"/>
<rect x="958.10" y="877.10" width="13.00" height="13.00" fill="#a00000"/>
<rect x="1027.20" y="877.10" width="13.00" height="13.00" fill="#a00000"/>
<rect x="1061.40" y="867.20" width="13.00" height="13.00" fill="#a00000"/>
<line x1="1095.35" y1="807.00" x2="1095.35" y2="826.10" stroke="#a00000" stroke-width="3.0" stroke-linecap="butt"/>
<line x1="1090.70" y1="807.00" x2="1102.00" y2="807.00" stroke="#a00000" stroke-width="3.4" stroke-linecap="round"/>
<line x1="1090.70" y1="826.10" x2="1102.00" y2="826.10" stroke="#a00000" stroke-width="3.4" stroke-linecap="round"/>
<rect x="1088.85" y="810.10" width="13.00" height="13.00" fill="#a00000"/>
<rect x="1116.30" y="773.30" width="13.00" height="13.00" fill="#a00000"/>
<rect x="1143.75" y="764.00" width="13.00" height="13.00" fill="#a00000"/>
<rect x="1171.20" y="767.10" width="13.00" height="13.00" fill="#a00000"/>
<rect x="1198.65" y="771.80" width="13.00" height="13.00" fill="#a00000"/>
<rect x="1226.10" y="779.90" width="13.00" height="13.00" fill="#a00000"/>
<line x1="1260.05" y1="773.90" x2="1260.05" y2="787.90" stroke="#a00000" stroke-width="3.0" stroke-linecap="butt"/>
<line x1="1255.40" y1="773.90" x2="1266.70" y2="773.90" stroke="#a00000" stroke-width="3.4" stroke-linecap="round"/>
<line x1="1255.40" y1="787.90" x2="1266.70" y2="787.90" stroke="#a00000" stroke-width="3.4" stroke-linecap="round"/>
<rect x="1253.55" y="774.70" width="13.00" height="13.00" fill="#a00000"/>
<rect x="1281.00" y="778.90" width="13.00" height="13.00" fill="#a00000"/>
<rect x="1308.45" y="778.20" width="13.00" height="13.00" fill="#a00000"/>
<rect x="1335.90" y="780.80" width="13.00" height="13.00" fill="#a00000"/>
<rect x="1363.35" y="777.90" width="13.00" height="13.00" fill="#a00000"/>
<rect x="1390.80" y="782.90" width="13.00" height="13.00" fill="#a00000"/>
<line x1="1424.75" y1="783.00" x2="1424.75" y2="798.70" stroke="#a00000" stroke-width="3.0" stroke-linecap="butt"/>
<line x1="1420.10" y1="783.00" x2="1431.40" y2="783.00" stroke="#a00000" stroke-width="3.4" stroke-linecap="round"/>
<line x1="1420.10" y1="798.70" x2="1431.40" y2="798.70" stroke="#a00000" stroke-width="3.4" stroke-linecap="round"/>
<rect x="1418.25" y="784.40" width="13.00" height="13.00" fill="#a00000"/>
<rect x="1445.70" y="788.40" width="13.00" height="13.00" fill="#a00000"/>
<line x1="1060.90" y1="744.00" x2="1060.90" y2="1148.80" stroke="#000" stroke-width="2.0" stroke-linecap="butt" stroke-dasharray="6.1 4.15"/>
<line x1="98.70" y1="1391.20" x2="98.70" y2="1805.20" stroke="#000" stroke-width="3.6" stroke-linecap="butt"/>
<line x1="87.20" y1="1393.00" x2="100.50" y2="1393.00" stroke="#000" stroke-width="3.6" stroke-linecap="butt"/>
<g transform="translate(83.20 1404.40) scale(0.95 1.04)" fill="#000"><text x="-44.48" y="0" font-size="32" font-weight="bold" style="white-space:pre">7.2</text></g>
<line x1="87.20" y1="1519.30" x2="100.50" y2="1519.30" stroke="#000" stroke-width="3.6" stroke-linecap="butt"/>
<g transform="translate(83.20 1530.70) scale(0.95 1.04)" fill="#000"><text x="-44.48" y="0" font-size="32" font-weight="bold" style="white-space:pre">7.0</text></g>
<line x1="87.20" y1="1645.60" x2="100.50" y2="1645.60" stroke="#000" stroke-width="3.6" stroke-linecap="butt"/>
<g transform="translate(83.20 1657.00) scale(0.95 1.04)" fill="#000"><text x="-44.48" y="0" font-size="32" font-weight="bold" style="white-space:pre">6.8</text></g>
<line x1="87.20" y1="1771.90" x2="100.50" y2="1771.90" stroke="#000" stroke-width="3.6" stroke-linecap="butt"/>
<g transform="translate(83.20 1783.30) scale(0.95 1.04)" fill="#000"><text x="-44.48" y="0" font-size="32" font-weight="bold" style="white-space:pre">6.6</text></g>
<line x1="96.90" y1="1803.40" x2="719.50" y2="1803.40" stroke="#000" stroke-width="3.6" stroke-linecap="butt"/>
<line x1="98.70" y1="1801.60" x2="98.70" y2="1814.90" stroke="#000" stroke-width="3.6" stroke-linecap="butt"/>
<g transform="translate(98.70 1847.90) scale(0.95 1.04)" fill="#000"><text x="-8.90" y="0" font-size="32" font-weight="bold" style="white-space:pre">0</text></g>
<line x1="222.50" y1="1801.60" x2="222.50" y2="1814.90" stroke="#000" stroke-width="3.6" stroke-linecap="butt"/>
<g transform="translate(222.50 1847.90) scale(0.95 1.04)" fill="#000"><path transform="translate(-8.90 0) scale(0.01562 -0.01562)" d="M861 0H586V1037Q400 930 190 842V1067Q474 1200 608 1409H861Z"/></g>
<line x1="346.30" y1="1801.60" x2="346.30" y2="1814.90" stroke="#000" stroke-width="3.6" stroke-linecap="butt"/>
<g transform="translate(346.30 1847.90) scale(0.95 1.04)" fill="#000"><text x="-8.90" y="0" font-size="32" font-weight="bold" style="white-space:pre">2</text></g>
<line x1="470.10" y1="1801.60" x2="470.10" y2="1814.90" stroke="#000" stroke-width="3.6" stroke-linecap="butt"/>
<g transform="translate(470.10 1847.90) scale(0.95 1.04)" fill="#000"><text x="-8.90" y="0" font-size="32" font-weight="bold" style="white-space:pre">3</text></g>
<line x1="593.90" y1="1801.60" x2="593.90" y2="1814.90" stroke="#000" stroke-width="3.6" stroke-linecap="butt"/>
<g transform="translate(593.90 1847.90) scale(0.95 1.04)" fill="#000"><text x="-8.90" y="0" font-size="32" font-weight="bold" style="white-space:pre">4</text></g>
<line x1="717.70" y1="1801.60" x2="717.70" y2="1814.90" stroke="#000" stroke-width="3.6" stroke-linecap="butt"/>
<g transform="translate(717.70 1847.90) scale(0.95 1.04)" fill="#000"><text x="-8.90" y="0" font-size="32" font-weight="bold" style="white-space:pre">5</text></g>
<text transform="translate(408.20 1893.00)" font-size="33.8" font-weight="bold" text-anchor="middle" fill="#000">time (h)</text>
<text transform="translate(27.70 1597.30) rotate(-90)" font-size="33.5" font-weight="bold" text-anchor="middle" fill="#000">pH</text>
<text transform="translate(364.40 1380.20)" font-size="34.5" font-weight="bold" text-anchor="middle" fill="#000">Cytosol</text>
<text transform="translate(145.30 1353.60) scale(0.747 1.0)" font-size="57" font-weight="bold" text-anchor="middle" fill="#000">E</text>
<line x1="102.30" y1="1498.00" x2="102.30" y2="1563.30" stroke="#000000" stroke-width="3.9" stroke-linecap="butt"/>
<line x1="99.50" y1="1498.00" x2="105.70" y2="1498.00" stroke="#000000" stroke-width="3.8" stroke-linecap="round"/>
<line x1="99.50" y1="1563.30" x2="105.70" y2="1563.30" stroke="#000000" stroke-width="3.8" stroke-linecap="round"/>
<line x1="133.30" y1="1549.10" x2="133.30" y2="1602.20" stroke="#000000" stroke-width="3.9" stroke-linecap="butt"/>
<line x1="130.50" y1="1549.10" x2="136.70" y2="1549.10" stroke="#000000" stroke-width="3.8" stroke-linecap="round"/>
<line x1="130.50" y1="1602.20" x2="136.70" y2="1602.20" stroke="#000000" stroke-width="3.8" stroke-linecap="round"/>
<line x1="164.30" y1="1552.80" x2="164.30" y2="1578.00" stroke="#000000" stroke-width="3.9" stroke-linecap="butt"/>
<line x1="161.50" y1="1552.80" x2="167.70" y2="1552.80" stroke="#000000" stroke-width="3.8" stroke-linecap="round"/>
<line x1="161.50" y1="1578.00" x2="167.70" y2="1578.00" stroke="#000000" stroke-width="3.8" stroke-linecap="round"/>
<line x1="195.30" y1="1552.60" x2="195.30" y2="1587.60" stroke="#000000" stroke-width="3.9" stroke-linecap="butt"/>
<line x1="192.50" y1="1552.60" x2="198.70" y2="1552.60" stroke="#000000" stroke-width="3.8" stroke-linecap="round"/>
<line x1="192.50" y1="1587.60" x2="198.70" y2="1587.60" stroke="#000000" stroke-width="3.8" stroke-linecap="round"/>
<line x1="226.30" y1="1562.40" x2="226.30" y2="1577.20" stroke="#000000" stroke-width="3.9" stroke-linecap="butt"/>
<line x1="223.50" y1="1562.40" x2="229.70" y2="1562.40" stroke="#000000" stroke-width="3.8" stroke-linecap="round"/>
<line x1="223.50" y1="1577.20" x2="229.70" y2="1577.20" stroke="#000000" stroke-width="3.8" stroke-linecap="round"/>
<line x1="257.30" y1="1542.70" x2="257.30" y2="1614.40" stroke="#000000" stroke-width="3.9" stroke-linecap="butt"/>
<line x1="254.50" y1="1542.70" x2="260.70" y2="1542.70" stroke="#000000" stroke-width="3.8" stroke-linecap="round"/>
<line x1="254.50" y1="1614.40" x2="260.70" y2="1614.40" stroke="#000000" stroke-width="3.8" stroke-linecap="round"/>
<line x1="288.30" y1="1529.40" x2="288.30" y2="1573.60" stroke="#000000" stroke-width="3.9" stroke-linecap="butt"/>
<line x1="285.50" y1="1529.40" x2="291.70" y2="1529.40" stroke="#000000" stroke-width="3.8" stroke-linecap="round"/>
<line x1="285.50" y1="1573.60" x2="291.70" y2="1573.60" stroke="#000000" stroke-width="3.8" stroke-linecap="round"/>
<line x1="319.30" y1="1544.10" x2="319.30" y2="1580.00" stroke="#000000" stroke-width="3.9" stroke-linecap="butt"/>
<line x1="316.50" y1="1544.10" x2="322.70" y2="1544.10" stroke="#000000" stroke-width="3.8" stroke-linecap="round"/>
<line x1="316.50" y1="1580.00" x2="322.70" y2="1580.00" stroke="#000000" stroke-width="3.8" stroke-linecap="round"/>
<line x1="350.30" y1="1537.10" x2="350.30" y2="1614.30" stroke="#000000" stroke-width="3.9" stroke-linecap="butt"/>
<line x1="347.50" y1="1537.10" x2="353.70" y2="1537.10" stroke="#000000" stroke-width="3.8" stroke-linecap="round"/>
<line x1="347.50" y1="1614.30" x2="353.70" y2="1614.30" stroke="#000000" stroke-width="3.8" stroke-linecap="round"/>
<line x1="381.30" y1="1551.10" x2="381.30" y2="1603.20" stroke="#000000" stroke-width="3.9" stroke-linecap="butt"/>
<line x1="378.50" y1="1551.10" x2="384.70" y2="1551.10" stroke="#000000" stroke-width="3.8" stroke-linecap="round"/>
<line x1="378.50" y1="1603.20" x2="384.70" y2="1603.20" stroke="#000000" stroke-width="3.8" stroke-linecap="round"/>
<line x1="412.30" y1="1545.50" x2="412.30" y2="1589.80" stroke="#000000" stroke-width="3.9" stroke-linecap="butt"/>
<line x1="409.50" y1="1545.50" x2="415.70" y2="1545.50" stroke="#000000" stroke-width="3.8" stroke-linecap="round"/>
<line x1="409.50" y1="1589.80" x2="415.70" y2="1589.80" stroke="#000000" stroke-width="3.8" stroke-linecap="round"/>
<line x1="443.30" y1="1549.00" x2="443.30" y2="1581.40" stroke="#000000" stroke-width="3.9" stroke-linecap="butt"/>
<line x1="440.50" y1="1549.00" x2="446.70" y2="1549.00" stroke="#000000" stroke-width="3.8" stroke-linecap="round"/>
<line x1="440.50" y1="1581.40" x2="446.70" y2="1581.40" stroke="#000000" stroke-width="3.8" stroke-linecap="round"/>
<line x1="474.30" y1="1545.00" x2="474.30" y2="1575.70" stroke="#000000" stroke-width="3.9" stroke-linecap="butt"/>
<line x1="471.50" y1="1545.00" x2="477.70" y2="1545.00" stroke="#000000" stroke-width="3.8" stroke-linecap="round"/>
<line x1="471.50" y1="1575.70" x2="477.70" y2="1575.70" stroke="#000000" stroke-width="3.8" stroke-linecap="round"/>
<line x1="505.30" y1="1544.40" x2="505.30" y2="1627.90" stroke="#000000" stroke-width="3.9" stroke-linecap="butt"/>
<line x1="502.50" y1="1544.40" x2="508.70" y2="1544.40" stroke="#000000" stroke-width="3.8" stroke-linecap="round"/>
<line x1="502.50" y1="1627.90" x2="508.70" y2="1627.90" stroke="#000000" stroke-width="3.8" stroke-linecap="round"/>
<line x1="536.30" y1="1565.30" x2="536.30" y2="1595.70" stroke="#000000" stroke-width="3.9" stroke-linecap="butt"/>
<line x1="533.50" y1="1565.30" x2="539.70" y2="1565.30" stroke="#000000" stroke-width="3.8" stroke-linecap="round"/>
<line x1="533.50" y1="1595.70" x2="539.70" y2="1595.70" stroke="#000000" stroke-width="3.8" stroke-linecap="round"/>
<line x1="567.30" y1="1566.10" x2="567.30" y2="1612.80" stroke="#000000" stroke-width="3.9" stroke-linecap="butt"/>
<line x1="564.50" y1="1566.10" x2="570.70" y2="1566.10" stroke="#000000" stroke-width="3.8" stroke-linecap="round"/>
<line x1="564.50" y1="1612.80" x2="570.70" y2="1612.80" stroke="#000000" stroke-width="3.8" stroke-linecap="round"/>
<line x1="598.30" y1="1558.30" x2="598.30" y2="1583.50" stroke="#000000" stroke-width="3.9" stroke-linecap="butt"/>
<line x1="595.50" y1="1558.30" x2="601.70" y2="1558.30" stroke="#000000" stroke-width="3.8" stroke-linecap="round"/>
<line x1="595.50" y1="1583.50" x2="601.70" y2="1583.50" stroke="#000000" stroke-width="3.8" stroke-linecap="round"/>
<line x1="629.30" y1="1574.00" x2="629.30" y2="1597.50" stroke="#000000" stroke-width="3.9" stroke-linecap="butt"/>
<line x1="626.50" y1="1574.00" x2="632.70" y2="1574.00" stroke="#000000" stroke-width="3.8" stroke-linecap="round"/>
<line x1="626.50" y1="1597.50" x2="632.70" y2="1597.50" stroke="#000000" stroke-width="3.8" stroke-linecap="round"/>
<line x1="660.30" y1="1556.60" x2="660.30" y2="1624.40" stroke="#000000" stroke-width="3.9" stroke-linecap="butt"/>
<line x1="657.50" y1="1556.60" x2="663.70" y2="1556.60" stroke="#000000" stroke-width="3.8" stroke-linecap="round"/>
<line x1="657.50" y1="1624.40" x2="663.70" y2="1624.40" stroke="#000000" stroke-width="3.8" stroke-linecap="round"/>
<line x1="691.30" y1="1588.80" x2="691.30" y2="1618.30" stroke="#000000" stroke-width="3.9" stroke-linecap="butt"/>
<line x1="688.50" y1="1588.80" x2="694.70" y2="1588.80" stroke="#000000" stroke-width="3.8" stroke-linecap="round"/>
<line x1="688.50" y1="1618.30" x2="694.70" y2="1618.30" stroke="#000000" stroke-width="3.8" stroke-linecap="round"/>
<polyline points="102.30,1531.00 133.30,1574.70 164.30,1565.30 195.30,1570.10 226.30,1569.40 257.30,1578.60 288.30,1550.40 319.30,1561.70 350.30,1575.70 381.30,1576.40 412.30,1566.60 443.30,1563.10 474.30,1559.50 505.30,1586.10 536.30,1580.10 567.30,1590.50 598.30,1570.50 629.30,1585.30 660.30,1590.50 691.30,1603.60" fill="none" stroke="#000000" stroke-width="3.8" stroke-linejoin="miter" stroke-miterlimit="3"/>
<line x1="102.30" y1="1553.40" x2="102.30" y2="1594.10" stroke="#c0c000" stroke-width="3.9" stroke-linecap="butt"/>
<line x1="99.50" y1="1553.40" x2="105.70" y2="1553.40" stroke="#c0c000" stroke-width="3.8" stroke-linecap="round"/>
<line x1="99.50" y1="1594.10" x2="105.70" y2="1594.10" stroke="#c0c000" stroke-width="3.8" stroke-linecap="round"/>
<line x1="133.30" y1="1566.60" x2="133.30" y2="1616.50" stroke="#c0c000" stroke-width="3.9" stroke-linecap="butt"/>
<line x1="130.50" y1="1566.60" x2="136.70" y2="1566.60" stroke="#c0c000" stroke-width="3.8" stroke-linecap="round"/>
<line x1="130.50" y1="1616.50" x2="136.70" y2="1616.50" stroke="#c0c000" stroke-width="3.8" stroke-linecap="round"/>
<line x1="164.30" y1="1563.50" x2="164.30" y2="1604.30" stroke="#c0c000" stroke-width="3.9" stroke-linecap="butt"/>
<line x1="161.50" y1="1563.50" x2="167.70" y2="1563.50" stroke="#c0c000" stroke-width="3.8" stroke-linecap="round"/>
<line x1="161.50" y1="1604.30" x2="167.70" y2="1604.30" stroke="#c0c000" stroke-width="3.8" stroke-linecap="round"/>
<line x1="195.30" y1="1547.60" x2="195.30" y2="1590.50" stroke="#c0c000" stroke-width="3.9" stroke-linecap="butt"/>
<line x1="192.50" y1="1547.60" x2="198.70" y2="1547.60" stroke="#c0c000" stroke-width="3.8" stroke-linecap="round"/>
<line x1="192.50" y1="1590.50" x2="198.70" y2="1590.50" stroke="#c0c000" stroke-width="3.8" stroke-linecap="round"/>
<line x1="226.30" y1="1566.60" x2="226.30" y2="1617.20" stroke="#c0c000" stroke-width="3.9" stroke-linecap="butt"/>
<line x1="223.50" y1="1566.60" x2="229.70" y2="1566.60" stroke="#c0c000" stroke-width="3.8" stroke-linecap="round"/>
<line x1="223.50" y1="1617.20" x2="229.70" y2="1617.20" stroke="#c0c000" stroke-width="3.8" stroke-linecap="round"/>
<line x1="257.30" y1="1567.30" x2="257.30" y2="1624.90" stroke="#c0c000" stroke-width="3.9" stroke-linecap="butt"/>
<line x1="254.50" y1="1567.30" x2="260.70" y2="1567.30" stroke="#c0c000" stroke-width="3.8" stroke-linecap="round"/>
<line x1="254.50" y1="1624.90" x2="260.70" y2="1624.90" stroke="#c0c000" stroke-width="3.8" stroke-linecap="round"/>
<line x1="288.30" y1="1590.50" x2="288.30" y2="1604.60" stroke="#c0c000" stroke-width="3.9" stroke-linecap="butt"/>
<line x1="285.50" y1="1590.50" x2="291.70" y2="1590.50" stroke="#c0c000" stroke-width="3.8" stroke-linecap="round"/>
<line x1="285.50" y1="1604.60" x2="291.70" y2="1604.60" stroke="#c0c000" stroke-width="3.8" stroke-linecap="round"/>
<line x1="319.30" y1="1588.40" x2="319.30" y2="1625.00" stroke="#c0c000" stroke-width="3.9" stroke-linecap="butt"/>
<line x1="316.50" y1="1588.40" x2="322.70" y2="1588.40" stroke="#c0c000" stroke-width="3.8" stroke-linecap="round"/>
<line x1="316.50" y1="1625.00" x2="322.70" y2="1625.00" stroke="#c0c000" stroke-width="3.8" stroke-linecap="round"/>
<line x1="350.30" y1="1593.30" x2="350.30" y2="1636.90" stroke="#c0c000" stroke-width="3.9" stroke-linecap="butt"/>
<line x1="347.50" y1="1593.30" x2="353.70" y2="1593.30" stroke="#c0c000" stroke-width="3.8" stroke-linecap="round"/>
<line x1="347.50" y1="1636.90" x2="353.70" y2="1636.90" stroke="#c0c000" stroke-width="3.8" stroke-linecap="round"/>
<line x1="381.30" y1="1577.20" x2="381.30" y2="1645.30" stroke="#c0c000" stroke-width="3.9" stroke-linecap="butt"/>
<line x1="378.50" y1="1577.20" x2="384.70" y2="1577.20" stroke="#c0c000" stroke-width="3.8" stroke-linecap="round"/>
<line x1="378.50" y1="1645.30" x2="384.70" y2="1645.30" stroke="#c0c000" stroke-width="3.8" stroke-linecap="round"/>
<line x1="412.30" y1="1613.00" x2="412.30" y2="1643.90" stroke="#c0c000" stroke-width="3.9" stroke-linecap="butt"/>
<line x1="409.50" y1="1613.00" x2="415.70" y2="1613.00" stroke="#c0c000" stroke-width="3.8" stroke-linecap="round"/>
<line x1="409.50" y1="1643.90" x2="415.70" y2="1643.90" stroke="#c0c000" stroke-width="3.8" stroke-linecap="round"/>
<line x1="443.30" y1="1617.90" x2="443.30" y2="1636.90" stroke="#c0c000" stroke-width="3.9" stroke-linecap="butt"/>
<line x1="440.50" y1="1617.90" x2="446.70" y2="1617.90" stroke="#c0c000" stroke-width="3.8" stroke-linecap="round"/>
<line x1="440.50" y1="1636.90" x2="446.70" y2="1636.90" stroke="#c0c000" stroke-width="3.8" stroke-linecap="round"/>
<line x1="474.30" y1="1602.60" x2="474.30" y2="1650.00" stroke="#c0c000" stroke-width="3.9" stroke-linecap="butt"/>
<line x1="471.50" y1="1602.60" x2="477.70" y2="1602.60" stroke="#c0c000" stroke-width="3.8" stroke-linecap="round"/>
<line x1="471.50" y1="1650.00" x2="477.70" y2="1650.00" stroke="#c0c000" stroke-width="3.8" stroke-linecap="round"/>
<line x1="505.30" y1="1627.90" x2="505.30" y2="1658.40" stroke="#c0c000" stroke-width="3.9" stroke-linecap="butt"/>
<line x1="502.50" y1="1627.90" x2="508.70" y2="1627.90" stroke="#c0c000" stroke-width="3.8" stroke-linecap="round"/>
<line x1="502.50" y1="1658.40" x2="508.70" y2="1658.40" stroke="#c0c000" stroke-width="3.8" stroke-linecap="round"/>
<line x1="536.30" y1="1623.60" x2="536.30" y2="1650.50" stroke="#c0c000" stroke-width="3.9" stroke-linecap="butt"/>
<line x1="533.50" y1="1623.60" x2="539.70" y2="1623.60" stroke="#c0c000" stroke-width="3.8" stroke-linecap="round"/>
<line x1="533.50" y1="1650.50" x2="539.70" y2="1650.50" stroke="#c0c000" stroke-width="3.8" stroke-linecap="round"/>
<line x1="567.30" y1="1600.90" x2="567.30" y2="1654.00" stroke="#c0c000" stroke-width="3.9" stroke-linecap="butt"/>
<line x1="564.50" y1="1600.90" x2="570.70" y2="1600.90" stroke="#c0c000" stroke-width="3.8" stroke-linecap="round"/>
<line x1="564.50" y1="1654.00" x2="570.70" y2="1654.00" stroke="#c0c000" stroke-width="3.8" stroke-linecap="round"/>
<line x1="598.30" y1="1627.00" x2="598.30" y2="1654.00" stroke="#c0c000" stroke-width="3.9" stroke-linecap="butt"/>
<line x1="595.50" y1="1627.00" x2="601.70" y2="1627.00" stroke="#c0c000" stroke-width="3.8" stroke-linecap="round"/>
<line x1="595.50" y1="1654.00" x2="601.70" y2="1654.00" stroke="#c0c000" stroke-width="3.8" stroke-linecap="round"/>
<line x1="629.30" y1="1648.80" x2="629.30" y2="1672.30" stroke="#c0c000" stroke-width="3.9" stroke-linecap="butt"/>
<line x1="626.50" y1="1648.80" x2="632.70" y2="1648.80" stroke="#c0c000" stroke-width="3.8" stroke-linecap="round"/>
<line x1="626.50" y1="1672.30" x2="632.70" y2="1672.30" stroke="#c0c000" stroke-width="3.8" stroke-linecap="round"/>
<line x1="660.30" y1="1662.70" x2="660.30" y2="1678.40" stroke="#c0c000" stroke-width="3.9" stroke-linecap="butt"/>
<line x1="657.50" y1="1662.70" x2="663.70" y2="1662.70" stroke="#c0c000" stroke-width="3.8" stroke-linecap="round"/>
<line x1="657.50" y1="1678.40" x2="663.70" y2="1678.40" stroke="#c0c000" stroke-width="3.8" stroke-linecap="round"/>
<line x1="691.30" y1="1658.40" x2="691.30" y2="1675.80" stroke="#c0c000" stroke-width="3.9" stroke-linecap="butt"/>
<line x1="688.50" y1="1658.40" x2="694.70" y2="1658.40" stroke="#c0c000" stroke-width="3.8" stroke-linecap="round"/>
<line x1="688.50" y1="1675.80" x2="694.70" y2="1675.80" stroke="#c0c000" stroke-width="3.8" stroke-linecap="round"/>
<polyline points="102.30,1573.75 133.30,1591.50 164.30,1584.00 195.30,1569.40 226.30,1591.20 257.30,1596.10 288.30,1597.80 319.30,1606.00 350.30,1614.40 381.30,1610.20 412.30,1628.50 443.30,1627.00 474.30,1626.00 505.30,1642.70 536.30,1636.60 567.30,1627.90 598.30,1641.80 629.30,1660.10 660.30,1670.60 691.30,1667.10" fill="none" stroke="#c0c000" stroke-width="3.8" stroke-linejoin="miter" stroke-miterlimit="3"/>
<line x1="102.30" y1="1537.20" x2="102.30" y2="1640.00" stroke="#ff5a00" stroke-width="3.9" stroke-linecap="butt"/>
<line x1="99.50" y1="1537.20" x2="105.70" y2="1537.20" stroke="#ff5a00" stroke-width="3.8" stroke-linecap="round"/>
<line x1="99.50" y1="1640.00" x2="105.70" y2="1640.00" stroke="#ff5a00" stroke-width="3.8" stroke-linecap="round"/>
<line x1="133.30" y1="1578.80" x2="133.30" y2="1616.80" stroke="#ff5a00" stroke-width="3.9" stroke-linecap="butt"/>
<line x1="130.50" y1="1578.80" x2="136.70" y2="1578.80" stroke="#ff5a00" stroke-width="3.8" stroke-linecap="round"/>
<line x1="130.50" y1="1616.80" x2="136.70" y2="1616.80" stroke="#ff5a00" stroke-width="3.8" stroke-linecap="round"/>
<line x1="164.30" y1="1613.00" x2="164.30" y2="1625.50" stroke="#ff5a00" stroke-width="3.9" stroke-linecap="butt"/>
<line x1="161.50" y1="1613.00" x2="167.70" y2="1613.00" stroke="#ff5a00" stroke-width="3.8" stroke-linecap="round"/>
<line x1="161.50" y1="1625.50" x2="167.70" y2="1625.50" stroke="#ff5a00" stroke-width="3.8" stroke-linecap="round"/>
<line x1="195.30" y1="1613.70" x2="195.30" y2="1642.50" stroke="#ff5a00" stroke-width="3.9" stroke-linecap="butt"/>
<line x1="192.50" y1="1613.70" x2="198.70" y2="1613.70" stroke="#ff5a00" stroke-width="3.8" stroke-linecap="round"/>
<line x1="192.50" y1="1642.50" x2="198.70" y2="1642.50" stroke="#ff5a00" stroke-width="3.8" stroke-linecap="round"/>
<line x1="226.30" y1="1610.90" x2="226.30" y2="1648.80" stroke="#ff5a00" stroke-width="3.9" stroke-linecap="butt"/>
<line x1="223.50" y1="1610.90" x2="229.70" y2="1610.90" stroke="#ff5a00" stroke-width="3.8" stroke-linecap="round"/>
<line x1="223.50" y1="1648.80" x2="229.70" y2="1648.80" stroke="#ff5a00" stroke-width="3.8" stroke-linecap="round"/>
<line x1="257.30" y1="1607.40" x2="257.30" y2="1651.70" stroke="#ff5a00" stroke-width="3.9" stroke-linecap="butt"/>
<line x1="254.50" y1="1607.40" x2="260.70" y2="1607.40" stroke="#ff5a00" stroke-width="3.8" stroke-linecap="round"/>
<line x1="254.50" y1="1651.70" x2="260.70" y2="1651.70" stroke="#ff5a00" stroke-width="3.8" stroke-linecap="round"/>
<line x1="288.30" y1="1616.30" x2="288.30" y2="1661.00" stroke="#ff5a00" stroke-width="3.9" stroke-linecap="butt"/>
<line x1="285.50" y1="1616.30" x2="291.70" y2="1616.30" stroke="#ff5a00" stroke-width="3.8" stroke-linecap="round"/>
<line x1="285.50" y1="1661.00" x2="291.70" y2="1661.00" stroke="#ff5a00" stroke-width="3.8" stroke-linecap="round"/>
<line x1="319.30" y1="1650.40" x2="319.30" y2="1668.70" stroke="#ff5a00" stroke-width="3.9" stroke-linecap="butt"/>
<line x1="316.50" y1="1650.40" x2="322.70" y2="1650.40" stroke="#ff5a00" stroke-width="3.8" stroke-linecap="round"/>
<line x1="316.50" y1="1668.70" x2="322.70" y2="1668.70" stroke="#ff5a00" stroke-width="3.8" stroke-linecap="round"/>
<line x1="350.30" y1="1642.70" x2="350.30" y2="1688.40" stroke="#ff5a00" stroke-width="3.9" stroke-linecap="butt"/>
<line x1="347.50" y1="1642.70" x2="353.70" y2="1642.70" stroke="#ff5a00" stroke-width="3.8" stroke-linecap="round"/>
<line x1="347.50" y1="1688.40" x2="353.70" y2="1688.40" stroke="#ff5a00" stroke-width="3.8" stroke-linecap="round"/>
<line x1="381.30" y1="1672.90" x2="381.30" y2="1680.30" stroke="#ff5a00" stroke-width="3.9" stroke-linecap="butt"/>
<line x1="378.50" y1="1672.90" x2="384.70" y2="1672.90" stroke="#ff5a00" stroke-width="3.8" stroke-linecap="round"/>
<line x1="378.50" y1="1680.30" x2="384.70" y2="1680.30" stroke="#ff5a00" stroke-width="3.8" stroke-linecap="round"/>
<line x1="412.30" y1="1656.80" x2="412.30" y2="1676.80" stroke="#ff5a00" stroke-width="3.9" stroke-linecap="butt"/>
<line x1="409.50" y1="1656.80" x2="415.70" y2="1656.80" stroke="#ff5a00" stroke-width="3.8" stroke-linecap="round"/>
<line x1="409.50" y1="1676.80" x2="415.70" y2="1676.80" stroke="#ff5a00" stroke-width="3.8" stroke-linecap="round"/>
<line x1="443.30" y1="1678.60" x2="443.30" y2="1716.70" stroke="#ff5a00" stroke-width="3.9" stroke-linecap="butt"/>
<line x1="440.50" y1="1678.60" x2="446.70" y2="1678.60" stroke="#ff5a00" stroke-width="3.8" stroke-linecap="round"/>
<line x1="440.50" y1="1716.70" x2="446.70" y2="1716.70" stroke="#ff5a00" stroke-width="3.8" stroke-linecap="round"/>
<line x1="474.30" y1="1631.50" x2="474.30" y2="1700.30" stroke="#ff5a00" stroke-width="3.9" stroke-linecap="butt"/>
<line x1="471.50" y1="1631.50" x2="477.70" y2="1631.50" stroke="#ff5a00" stroke-width="3.8" stroke-linecap="round"/>
<line x1="471.50" y1="1700.30" x2="477.70" y2="1700.30" stroke="#ff5a00" stroke-width="3.8" stroke-linecap="round"/>
<line x1="505.30" y1="1691.40" x2="505.30" y2="1759.40" stroke="#ff5a00" stroke-width="3.9" stroke-linecap="butt"/>
<line x1="502.50" y1="1691.40" x2="508.70" y2="1691.40" stroke="#ff5a00" stroke-width="3.8" stroke-linecap="round"/>
<line x1="502.50" y1="1759.40" x2="508.70" y2="1759.40" stroke="#ff5a00" stroke-width="3.8" stroke-linecap="round"/>
<line x1="536.30" y1="1662.70" x2="536.30" y2="1721.00" stroke="#ff5a00" stroke-width="3.9" stroke-linecap="butt"/>
<line x1="533.50" y1="1662.70" x2="539.70" y2="1662.70" stroke="#ff5a00" stroke-width="3.8" stroke-linecap="round"/>
<line x1="533.50" y1="1721.00" x2="539.70" y2="1721.00" stroke="#ff5a00" stroke-width="3.8" stroke-linecap="round"/>
<line x1="567.30" y1="1695.80" x2="567.30" y2="1721.00" stroke="#ff5a00" stroke-width="3.9" stroke-linecap="butt"/>
<line x1="564.50" y1="1695.80" x2="570.70" y2="1695.80" stroke="#ff5a00" stroke-width="3.8" stroke-linecap="round"/>
<line x1="564.50" y1="1721.00" x2="570.70" y2="1721.00" stroke="#ff5a00" stroke-width="3.8" stroke-linecap="round"/>
<line x1="598.30" y1="1684.50" x2="598.30" y2="1721.00" stroke="#ff5a00" stroke-width="3.9" stroke-linecap="butt"/>
<line x1="595.50" y1="1684.50" x2="601.70" y2="1684.50" stroke="#ff5a00" stroke-width="3.8" stroke-linecap="round"/>
<line x1="595.50" y1="1721.00" x2="601.70" y2="1721.00" stroke="#ff5a00" stroke-width="3.8" stroke-linecap="round"/>
<line x1="629.30" y1="1708.00" x2="629.30" y2="1721.90" stroke="#ff5a00" stroke-width="3.9" stroke-linecap="butt"/>
<line x1="626.50" y1="1708.00" x2="632.70" y2="1708.00" stroke="#ff5a00" stroke-width="3.8" stroke-linecap="round"/>
<line x1="626.50" y1="1721.90" x2="632.70" y2="1721.90" stroke="#ff5a00" stroke-width="3.8" stroke-linecap="round"/>
<line x1="660.30" y1="1718.60" x2="660.30" y2="1734.50" stroke="#ff5a00" stroke-width="3.9" stroke-linecap="butt"/>
<line x1="657.50" y1="1718.60" x2="663.70" y2="1718.60" stroke="#ff5a00" stroke-width="3.8" stroke-linecap="round"/>
<line x1="657.50" y1="1734.50" x2="663.70" y2="1734.50" stroke="#ff5a00" stroke-width="3.8" stroke-linecap="round"/>
<line x1="691.30" y1="1714.80" x2="691.30" y2="1754.80" stroke="#ff5a00" stroke-width="3.9" stroke-linecap="butt"/>
<line x1="688.50" y1="1714.80" x2="694.70" y2="1714.80" stroke="#ff5a00" stroke-width="3.8" stroke-linecap="round"/>
<line x1="688.50" y1="1754.80" x2="694.70" y2="1754.80" stroke="#ff5a00" stroke-width="3.8" stroke-linecap="round"/>
<polyline points="102.30,1588.60 133.30,1597.80 164.30,1617.70 195.30,1628.50 226.30,1629.90 257.30,1629.20 288.30,1637.10 319.30,1657.80 350.30,1665.20 381.30,1676.50 412.30,1666.20 443.30,1695.40 474.30,1666.50 505.30,1721.00 536.30,1691.40 567.30,1708.00 598.30,1702.70 629.30,1714.90 660.30,1727.00 691.30,1734.00" fill="none" stroke="#ff5a00" stroke-width="3.8" stroke-linejoin="miter" stroke-miterlimit="3"/>
<line x1="102.30" y1="1635.00" x2="102.30" y2="1647.00" stroke="#9c0000" stroke-width="3.9" stroke-linecap="butt"/>
<line x1="99.50" y1="1635.00" x2="105.70" y2="1635.00" stroke="#9c0000" stroke-width="3.8" stroke-linecap="round"/>
<line x1="99.50" y1="1647.00" x2="105.70" y2="1647.00" stroke="#9c0000" stroke-width="3.8" stroke-linecap="round"/>
<line x1="133.30" y1="1577.10" x2="133.30" y2="1656.60" stroke="#9c0000" stroke-width="3.9" stroke-linecap="butt"/>
<line x1="130.50" y1="1577.10" x2="136.70" y2="1577.10" stroke="#9c0000" stroke-width="3.8" stroke-linecap="round"/>
<line x1="130.50" y1="1656.60" x2="136.70" y2="1656.60" stroke="#9c0000" stroke-width="3.8" stroke-linecap="round"/>
<line x1="164.30" y1="1622.60" x2="164.30" y2="1694.50" stroke="#9c0000" stroke-width="3.9" stroke-linecap="butt"/>
<line x1="161.50" y1="1622.60" x2="167.70" y2="1622.60" stroke="#9c0000" stroke-width="3.8" stroke-linecap="round"/>
<line x1="161.50" y1="1694.50" x2="167.70" y2="1694.50" stroke="#9c0000" stroke-width="3.8" stroke-linecap="round"/>
<line x1="195.30" y1="1625.60" x2="195.30" y2="1653.00" stroke="#9c0000" stroke-width="3.9" stroke-linecap="butt"/>
<line x1="192.50" y1="1625.60" x2="198.70" y2="1625.60" stroke="#9c0000" stroke-width="3.8" stroke-linecap="round"/>
<line x1="192.50" y1="1653.00" x2="198.70" y2="1653.00" stroke="#9c0000" stroke-width="3.8" stroke-linecap="round"/>
<line x1="226.30" y1="1636.20" x2="226.30" y2="1681.90" stroke="#9c0000" stroke-width="3.9" stroke-linecap="butt"/>
<line x1="223.50" y1="1636.20" x2="229.70" y2="1636.20" stroke="#9c0000" stroke-width="3.8" stroke-linecap="round"/>
<line x1="223.50" y1="1681.90" x2="229.70" y2="1681.90" stroke="#9c0000" stroke-width="3.8" stroke-linecap="round"/>
<line x1="257.30" y1="1632.00" x2="257.30" y2="1687.50" stroke="#9c0000" stroke-width="3.9" stroke-linecap="butt"/>
<line x1="254.50" y1="1632.00" x2="260.70" y2="1632.00" stroke="#9c0000" stroke-width="3.8" stroke-linecap="round"/>
<line x1="254.50" y1="1687.50" x2="260.70" y2="1687.50" stroke="#9c0000" stroke-width="3.8" stroke-linecap="round"/>
<line x1="288.30" y1="1670.40" x2="288.30" y2="1712.50" stroke="#9c0000" stroke-width="3.9" stroke-linecap="butt"/>
<line x1="285.50" y1="1670.40" x2="291.70" y2="1670.40" stroke="#9c0000" stroke-width="3.8" stroke-linecap="round"/>
<line x1="285.50" y1="1712.50" x2="291.70" y2="1712.50" stroke="#9c0000" stroke-width="3.8" stroke-linecap="round"/>
<line x1="319.30" y1="1655.70" x2="319.30" y2="1725.50" stroke="#9c0000" stroke-width="3.9" stroke-linecap="butt"/>
<line x1="316.50" y1="1655.70" x2="322.70" y2="1655.70" stroke="#9c0000" stroke-width="3.8" stroke-linecap="round"/>
<line x1="316.50" y1="1725.50" x2="322.70" y2="1725.50" stroke="#9c0000" stroke-width="3.8" stroke-linecap="round"/>
<line x1="350.30" y1="1677.50" x2="350.30" y2="1725.10" stroke="#9c0000" stroke-width="3.9" stroke-linecap="butt"/>
<line x1="347.50" y1="1677.50" x2="353.70" y2="1677.50" stroke="#9c0000" stroke-width="3.8" stroke-linecap="round"/>
<line x1="347.50" y1="1725.10" x2="353.70" y2="1725.10" stroke="#9c0000" stroke-width="3.8" stroke-linecap="round"/>
<line x1="381.30" y1="1666.20" x2="381.30" y2="1735.60" stroke="#9c0000" stroke-width="3.9" stroke-linecap="butt"/>
<line x1="378.50" y1="1666.20" x2="384.70" y2="1666.20" stroke="#9c0000" stroke-width="3.8" stroke-linecap="round"/>
<line x1="378.50" y1="1735.60" x2="384.70" y2="1735.60" stroke="#9c0000" stroke-width="3.8" stroke-linecap="round"/>
<line x1="412.30" y1="1713.20" x2="412.30" y2="1723.00" stroke="#9c0000" stroke-width="3.9" stroke-linecap="butt"/>
<line x1="409.50" y1="1713.20" x2="415.70" y2="1713.20" stroke="#9c0000" stroke-width="3.8" stroke-linecap="round"/>
<line x1="409.50" y1="1723.00" x2="415.70" y2="1723.00" stroke="#9c0000" stroke-width="3.8" stroke-linecap="round"/>
<line x1="443.30" y1="1675.20" x2="443.30" y2="1720.20" stroke="#9c0000" stroke-width="3.9" stroke-linecap="butt"/>
<line x1="440.50" y1="1675.20" x2="446.70" y2="1675.20" stroke="#9c0000" stroke-width="3.8" stroke-linecap="round"/>
<line x1="440.50" y1="1720.20" x2="446.70" y2="1720.20" stroke="#9c0000" stroke-width="3.8" stroke-linecap="round"/>
<line x1="474.30" y1="1682.10" x2="474.30" y2="1750.50" stroke="#9c0000" stroke-width="3.9" stroke-linecap="butt"/>
<line x1="471.50" y1="1682.10" x2="477.70" y2="1682.10" stroke="#9c0000" stroke-width="3.8" stroke-linecap="round"/>
<line x1="471.50" y1="1750.50" x2="477.70" y2="1750.50" stroke="#9c0000" stroke-width="3.8" stroke-linecap="round"/>
<line x1="505.30" y1="1715.50" x2="505.30" y2="1729.60" stroke="#9c0000" stroke-width="3.9" stroke-linecap="butt"/>
<line x1="502.50" y1="1715.50" x2="508.70" y2="1715.50" stroke="#9c0000" stroke-width="3.8" stroke-linecap="round"/>
<line x1="502.50" y1="1729.60" x2="508.70" y2="1729.60" stroke="#9c0000" stroke-width="3.8" stroke-linecap="round"/>
<line x1="536.30" y1="1712.20" x2="536.30" y2="1753.10" stroke="#9c0000" stroke-width="3.9" stroke-linecap="butt"/>
<line x1="533.50" y1="1712.20" x2="539.70" y2="1712.20" stroke="#9c0000" stroke-width="3.8" stroke-linecap="round"/>
<line x1="533.50" y1="1753.10" x2="539.70" y2="1753.10" stroke="#9c0000" stroke-width="3.8" stroke-linecap="round"/>
<line x1="567.30" y1="1726.10" x2="567.30" y2="1750.10" stroke="#9c0000" stroke-width="3.9" stroke-linecap="butt"/>
<line x1="564.50" y1="1726.10" x2="570.70" y2="1726.10" stroke="#9c0000" stroke-width="3.8" stroke-linecap="round"/>
<line x1="564.50" y1="1750.10" x2="570.70" y2="1750.10" stroke="#9c0000" stroke-width="3.8" stroke-linecap="round"/>
<line x1="598.30" y1="1746.10" x2="598.30" y2="1764.10" stroke="#9c0000" stroke-width="3.9" stroke-linecap="butt"/>
<line x1="595.50" y1="1746.10" x2="601.70" y2="1746.10" stroke="#9c0000" stroke-width="3.8" stroke-linecap="round"/>
<line x1="595.50" y1="1764.10" x2="601.70" y2="1764.10" stroke="#9c0000" stroke-width="3.8" stroke-linecap="round"/>
<line x1="629.30" y1="1748.80" x2="629.30" y2="1768.80" stroke="#9c0000" stroke-width="3.9" stroke-linecap="butt"/>
<line x1="626.50" y1="1748.80" x2="632.70" y2="1748.80" stroke="#9c0000" stroke-width="3.8" stroke-linecap="round"/>
<line x1="626.50" y1="1768.80" x2="632.70" y2="1768.80" stroke="#9c0000" stroke-width="3.8" stroke-linecap="round"/>
<line x1="660.30" y1="1732.20" x2="660.30" y2="1760.90" stroke="#9c0000" stroke-width="3.9" stroke-linecap="butt"/>
<line x1="657.50" y1="1732.20" x2="663.70" y2="1732.20" stroke="#9c0000" stroke-width="3.8" stroke-linecap="round"/>
<line x1="657.50" y1="1760.90" x2="663.70" y2="1760.90" stroke="#9c0000" stroke-width="3.8" stroke-linecap="round"/>
<line x1="691.30" y1="1743.20" x2="691.30" y2="1774.50" stroke="#9c0000" stroke-width="3.9" stroke-linecap="butt"/>
<line x1="688.50" y1="1743.20" x2="694.70" y2="1743.20" stroke="#9c0000" stroke-width="3.8" stroke-linecap="round"/>
<line x1="688.50" y1="1774.50" x2="694.70" y2="1774.50" stroke="#9c0000" stroke-width="3.8" stroke-linecap="round"/>
<polyline points="102.30,1640.50 133.30,1616.80 164.30,1657.00 195.30,1639.00 226.30,1658.00 257.30,1660.10 288.30,1691.20 319.30,1690.50 350.30,1701.20 381.30,1700.50 412.30,1717.40 443.30,1697.00 474.30,1716.20 505.30,1721.90 536.30,1732.20 567.30,1737.90 598.30,1754.80 629.30,1758.90 660.30,1746.10 691.30,1759.20" fill="none" stroke="#9c0000" stroke-width="3.8" stroke-linejoin="miter" stroke-miterlimit="3"/>
<line x1="857.70" y1="1391.20" x2="857.70" y2="1805.20" stroke="#000" stroke-width="3.6" stroke-linecap="butt"/>
<line x1="846.20" y1="1393.00" x2="859.50" y2="1393.00" stroke="#000" stroke-width="3.6" stroke-linecap="butt"/>
<g transform="translate(842.20 1404.40) scale(0.95 1.04)" fill="#000"><text x="-44.48" y="0" font-size="32" font-weight="bold" style="white-space:pre">7.2</text></g>
<line x1="846.20" y1="1519.30" x2="859.50" y2="1519.30" stroke="#000" stroke-width="3.6" stroke-linecap="butt"/>
<g transform="translate(842.20 1530.70) scale(0.95 1.04)" fill="#000"><text x="-44.48" y="0" font-size="32" font-weight="bold" style="white-space:pre">7.0</text></g>
<line x1="846.20" y1="1645.60" x2="859.50" y2="1645.60" stroke="#000" stroke-width="3.6" stroke-linecap="butt"/>
<g transform="translate(842.20 1657.00) scale(0.95 1.04)" fill="#000"><text x="-44.48" y="0" font-size="32" font-weight="bold" style="white-space:pre">6.8</text></g>
<line x1="846.20" y1="1771.90" x2="859.50" y2="1771.90" stroke="#000" stroke-width="3.6" stroke-linecap="butt"/>
<g transform="translate(842.20 1783.30) scale(0.95 1.04)" fill="#000"><text x="-44.48" y="0" font-size="32" font-weight="bold" style="white-space:pre">6.6</text></g>
<line x1="855.90" y1="1803.40" x2="1475.50" y2="1803.40" stroke="#000" stroke-width="3.6" stroke-linecap="butt"/>
<line x1="857.70" y1="1801.60" x2="857.70" y2="1814.90" stroke="#000" stroke-width="3.6" stroke-linecap="butt"/>
<g transform="translate(857.70 1847.90) scale(0.95 1.04)" fill="#000"><text x="-8.90" y="0" font-size="32" font-weight="bold" style="white-space:pre">0</text></g>
<line x1="980.90" y1="1801.60" x2="980.90" y2="1814.90" stroke="#000" stroke-width="3.6" stroke-linecap="butt"/>
<g transform="translate(980.90 1847.90) scale(0.95 1.04)" fill="#000"><path transform="translate(-8.90 0) scale(0.01562 -0.01562)" d="M861 0H586V1037Q400 930 190 842V1067Q474 1200 608 1409H861Z"/></g>
<line x1="1104.10" y1="1801.60" x2="1104.10" y2="1814.90" stroke="#000" stroke-width="3.6" stroke-linecap="butt"/>
<g transform="translate(1104.10 1847.90) scale(0.95 1.04)" fill="#000"><text x="-8.90" y="0" font-size="32" font-weight="bold" style="white-space:pre">2</text></g>
<line x1="1227.30" y1="1801.60" x2="1227.30" y2="1814.90" stroke="#000" stroke-width="3.6" stroke-linecap="butt"/>
<g transform="translate(1227.30 1847.90) scale(0.95 1.04)" fill="#000"><text x="-8.90" y="0" font-size="32" font-weight="bold" style="white-space:pre">3</text></g>
<line x1="1350.50" y1="1801.60" x2="1350.50" y2="1814.90" stroke="#000" stroke-width="3.6" stroke-linecap="butt"/>
<g transform="translate(1350.50 1847.90) scale(0.95 1.04)" fill="#000"><text x="-8.90" y="0" font-size="32" font-weight="bold" style="white-space:pre">4</text></g>
<line x1="1473.70" y1="1801.60" x2="1473.70" y2="1814.90" stroke="#000" stroke-width="3.6" stroke-linecap="butt"/>
<g transform="translate(1473.70 1847.90) scale(0.95 1.04)" fill="#000"><text x="-8.90" y="0" font-size="32" font-weight="bold" style="white-space:pre">5</text></g>
<text transform="translate(1165.70 1893.00)" font-size="33.8" font-weight="bold" text-anchor="middle" fill="#000">time (h)</text>
<text transform="translate(789.70 1597.30) rotate(-90)" font-size="33.5" font-weight="bold" text-anchor="middle" fill="#000">pH</text>
<text transform="translate(1165.30 1385.50)" font-size="34.5" font-weight="bold" text-anchor="middle" fill="#000">ER</text>
<text transform="translate(906.70 1356.60) scale(0.8 1.0)" font-size="57" font-weight="bold" text-anchor="middle" fill="#000">F</text>
<line x1="862.00" y1="1413.20" x2="862.00" y2="1458.70" stroke="#000000" stroke-width="3.9" stroke-linecap="butt"/>
<line x1="859.20" y1="1413.20" x2="865.40" y2="1413.20" stroke="#000000" stroke-width="3.8" stroke-linecap="round"/>
<line x1="859.20" y1="1458.70" x2="865.40" y2="1458.70" stroke="#000000" stroke-width="3.8" stroke-linecap="round"/>
<line x1="892.77" y1="1429.80" x2="892.77" y2="1478.50" stroke="#000000" stroke-width="3.9" stroke-linecap="butt"/>
<line x1="889.97" y1="1429.80" x2="896.17" y2="1429.80" stroke="#000000" stroke-width="3.8" stroke-linecap="round"/>
<line x1="889.97" y1="1478.50" x2="896.17" y2="1478.50" stroke="#000000" stroke-width="3.8" stroke-linecap="round"/>
<line x1="923.54" y1="1413.20" x2="923.54" y2="1436.20" stroke="#000000" stroke-width="3.9" stroke-linecap="butt"/>
<line x1="920.74" y1="1413.20" x2="926.94" y2="1413.20" stroke="#000000" stroke-width="3.8" stroke-linecap="round"/>
<line x1="920.74" y1="1436.20" x2="926.94" y2="1436.20" stroke="#000000" stroke-width="3.8" stroke-linecap="round"/>
<line x1="954.31" y1="1441.00" x2="954.31" y2="1450.70" stroke="#000000" stroke-width="3.9" stroke-linecap="butt"/>
<line x1="951.51" y1="1441.00" x2="957.71" y2="1441.00" stroke="#000000" stroke-width="3.8" stroke-linecap="round"/>
<line x1="951.51" y1="1450.70" x2="957.71" y2="1450.70" stroke="#000000" stroke-width="3.8" stroke-linecap="round"/>
<line x1="985.08" y1="1431.50" x2="985.08" y2="1467.50" stroke="#000000" stroke-width="3.9" stroke-linecap="butt"/>
<line x1="982.28" y1="1431.50" x2="988.48" y2="1431.50" stroke="#000000" stroke-width="3.8" stroke-linecap="round"/>
<line x1="982.28" y1="1467.50" x2="988.48" y2="1467.50" stroke="#000000" stroke-width="3.8" stroke-linecap="round"/>
<line x1="1015.85" y1="1398.40" x2="1015.85" y2="1441.80" stroke="#000000" stroke-width="3.9" stroke-linecap="butt"/>
<line x1="1013.05" y1="1398.40" x2="1019.25" y2="1398.40" stroke="#000000" stroke-width="3.8" stroke-linecap="round"/>
<line x1="1013.05" y1="1441.80" x2="1019.25" y2="1441.80" stroke="#000000" stroke-width="3.8" stroke-linecap="round"/>
<line x1="1046.62" y1="1429.30" x2="1046.62" y2="1461.00" stroke="#000000" stroke-width="3.9" stroke-linecap="butt"/>
<line x1="1043.82" y1="1429.30" x2="1050.02" y2="1429.30" stroke="#000000" stroke-width="3.8" stroke-linecap="round"/>
<line x1="1043.82" y1="1461.00" x2="1050.02" y2="1461.00" stroke="#000000" stroke-width="3.8" stroke-linecap="round"/>
<line x1="1077.39" y1="1448.50" x2="1077.39" y2="1484.50" stroke="#000000" stroke-width="3.9" stroke-linecap="butt"/>
<line x1="1074.59" y1="1448.50" x2="1080.79" y2="1448.50" stroke="#000000" stroke-width="3.8" stroke-linecap="round"/>
<line x1="1074.59" y1="1484.50" x2="1080.79" y2="1484.50" stroke="#000000" stroke-width="3.8" stroke-linecap="round"/>
<line x1="1108.16" y1="1399.90" x2="1108.16" y2="1467.60" stroke="#000000" stroke-width="3.9" stroke-linecap="butt"/>
<line x1="1105.36" y1="1399.90" x2="1111.56" y2="1399.90" stroke="#000000" stroke-width="3.8" stroke-linecap="round"/>
<line x1="1105.36" y1="1467.60" x2="1111.56" y2="1467.60" stroke="#000000" stroke-width="3.8" stroke-linecap="round"/>
<line x1="1138.93" y1="1444.10" x2="1138.93" y2="1463.90" stroke="#000000" stroke-width="3.9" stroke-linecap="butt"/>
<line x1="1136.13" y1="1444.10" x2="1142.33" y2="1444.10" stroke="#000000" stroke-width="3.8" stroke-linecap="round"/>
<line x1="1136.13" y1="1463.90" x2="1142.33" y2="1463.90" stroke="#000000" stroke-width="3.8" stroke-linecap="round"/>
<line x1="1169.70" y1="1427.90" x2="1169.70" y2="1495.00" stroke="#000000" stroke-width="3.9" stroke-linecap="butt"/>
<line x1="1166.90" y1="1427.90" x2="1173.10" y2="1427.90" stroke="#000000" stroke-width="3.8" stroke-linecap="round"/>
<line x1="1166.90" y1="1495.00" x2="1173.10" y2="1495.00" stroke="#000000" stroke-width="3.8" stroke-linecap="round"/>
<line x1="1200.47" y1="1464.70" x2="1200.47" y2="1491.90" stroke="#000000" stroke-width="3.9" stroke-linecap="butt"/>
<line x1="1197.67" y1="1464.70" x2="1203.87" y2="1464.70" stroke="#000000" stroke-width="3.8" stroke-linecap="round"/>
<line x1="1197.67" y1="1491.90" x2="1203.87" y2="1491.90" stroke="#000000" stroke-width="3.8" stroke-linecap="round"/>
<line x1="1231.24" y1="1434.50" x2="1231.24" y2="1491.20" stroke="#000000" stroke-width="3.9" stroke-linecap="butt"/>
<line x1="1228.44" y1="1434.50" x2="1234.64" y2="1434.50" stroke="#000000" stroke-width="3.8" stroke-linecap="round"/>
<line x1="1228.44" y1="1491.20" x2="1234.64" y2="1491.20" stroke="#000000" stroke-width="3.8" stroke-linecap="round"/>
<line x1="1262.01" y1="1453.60" x2="1262.01" y2="1483.80" stroke="#000000" stroke-width="3.9" stroke-linecap="butt"/>
<line x1="1259.21" y1="1453.60" x2="1265.41" y2="1453.60" stroke="#000000" stroke-width="3.8" stroke-linecap="round"/>
<line x1="1259.21" y1="1483.80" x2="1265.41" y2="1483.80" stroke="#000000" stroke-width="3.8" stroke-linecap="round"/>
<line x1="1292.78" y1="1427.90" x2="1292.78" y2="1493.40" stroke="#000000" stroke-width="3.9" stroke-linecap="butt"/>
<line x1="1289.98" y1="1427.90" x2="1296.18" y2="1427.90" stroke="#000000" stroke-width="3.8" stroke-linecap="round"/>
<line x1="1289.98" y1="1493.40" x2="1296.18" y2="1493.40" stroke="#000000" stroke-width="3.8" stroke-linecap="round"/>
<line x1="1323.55" y1="1448.50" x2="1323.55" y2="1479.40" stroke="#000000" stroke-width="3.9" stroke-linecap="butt"/>
<line x1="1320.75" y1="1448.50" x2="1326.95" y2="1448.50" stroke="#000000" stroke-width="3.8" stroke-linecap="round"/>
<line x1="1320.75" y1="1479.40" x2="1326.95" y2="1479.40" stroke="#000000" stroke-width="3.8" stroke-linecap="round"/>
<line x1="1354.32" y1="1435.00" x2="1354.32" y2="1478.00" stroke="#000000" stroke-width="3.9" stroke-linecap="butt"/>
<line x1="1351.52" y1="1435.00" x2="1357.72" y2="1435.00" stroke="#000000" stroke-width="3.8" stroke-linecap="round"/>
<line x1="1351.52" y1="1478.00" x2="1357.72" y2="1478.00" stroke="#000000" stroke-width="3.8" stroke-linecap="round"/>
<line x1="1385.09" y1="1442.70" x2="1385.09" y2="1503.10" stroke="#000000" stroke-width="3.9" stroke-linecap="butt"/>
<line x1="1382.29" y1="1442.70" x2="1388.49" y2="1442.70" stroke="#000000" stroke-width="3.8" stroke-linecap="round"/>
<line x1="1382.29" y1="1503.10" x2="1388.49" y2="1503.10" stroke="#000000" stroke-width="3.8" stroke-linecap="round"/>
<line x1="1415.86" y1="1439.80" x2="1415.86" y2="1505.30" stroke="#000000" stroke-width="3.9" stroke-linecap="butt"/>
<line x1="1413.06" y1="1439.80" x2="1419.26" y2="1439.80" stroke="#000000" stroke-width="3.8" stroke-linecap="round"/>
<line x1="1413.06" y1="1505.30" x2="1419.26" y2="1505.30" stroke="#000000" stroke-width="3.8" stroke-linecap="round"/>
<line x1="1446.63" y1="1472.20" x2="1446.63" y2="1488.40" stroke="#000000" stroke-width="3.9" stroke-linecap="butt"/>
<line x1="1443.83" y1="1472.20" x2="1450.03" y2="1472.20" stroke="#000000" stroke-width="3.8" stroke-linecap="round"/>
<line x1="1443.83" y1="1488.40" x2="1450.03" y2="1488.40" stroke="#000000" stroke-width="3.8" stroke-linecap="round"/>
<polyline points="862.00,1435.70 892.77,1453.90 923.54,1425.00 954.31,1445.30 985.08,1449.00 1015.85,1420.50 1046.62,1444.80 1077.39,1466.10 1108.16,1433.70 1138.93,1453.60 1169.70,1461.50 1200.47,1477.90 1231.24,1462.50 1262.01,1468.40 1292.78,1460.30 1323.55,1463.90 1354.32,1456.20 1385.09,1472.90 1415.86,1472.90 1446.63,1480.30" fill="none" stroke="#000000" stroke-width="3.8" stroke-linejoin="miter" stroke-miterlimit="3"/>
<line x1="862.00" y1="1438.40" x2="862.00" y2="1487.10" stroke="#c0c000" stroke-width="3.9" stroke-linecap="butt"/>
<line x1="859.20" y1="1438.40" x2="865.40" y2="1438.40" stroke="#c0c000" stroke-width="3.8" stroke-linecap="round"/>
<line x1="859.20" y1="1487.10" x2="865.40" y2="1487.10" stroke="#c0c000" stroke-width="3.8" stroke-linecap="round"/>
<line x1="892.77" y1="1472.10" x2="892.77" y2="1518.20" stroke="#c0c000" stroke-width="3.9" stroke-linecap="butt"/>
<line x1="889.97" y1="1472.10" x2="896.17" y2="1472.10" stroke="#c0c000" stroke-width="3.8" stroke-linecap="round"/>
<line x1="889.97" y1="1518.20" x2="896.17" y2="1518.20" stroke="#c0c000" stroke-width="3.8" stroke-linecap="round"/>
<line x1="923.54" y1="1434.10" x2="923.54" y2="1489.80" stroke="#c0c000" stroke-width="3.9" stroke-linecap="butt"/>
<line x1="920.74" y1="1434.10" x2="926.94" y2="1434.10" stroke="#c0c000" stroke-width="3.8" stroke-linecap="round"/>
<line x1="920.74" y1="1489.80" x2="926.94" y2="1489.80" stroke="#c0c000" stroke-width="3.8" stroke-linecap="round"/>
<line x1="954.31" y1="1467.80" x2="954.31" y2="1498.90" stroke="#c0c000" stroke-width="3.9" stroke-linecap="butt"/>
<line x1="951.51" y1="1467.80" x2="957.71" y2="1467.80" stroke="#c0c000" stroke-width="3.8" stroke-linecap="round"/>
<line x1="951.51" y1="1498.90" x2="957.71" y2="1498.90" stroke="#c0c000" stroke-width="3.8" stroke-linecap="round"/>
<line x1="985.08" y1="1465.00" x2="985.08" y2="1489.70" stroke="#c0c000" stroke-width="3.9" stroke-linecap="butt"/>
<line x1="982.28" y1="1465.00" x2="988.48" y2="1465.00" stroke="#c0c000" stroke-width="3.8" stroke-linecap="round"/>
<line x1="982.28" y1="1489.70" x2="988.48" y2="1489.70" stroke="#c0c000" stroke-width="3.8" stroke-linecap="round"/>
<line x1="1015.85" y1="1486.80" x2="1015.85" y2="1497.80" stroke="#c0c000" stroke-width="3.9" stroke-linecap="butt"/>
<line x1="1013.05" y1="1486.80" x2="1019.25" y2="1486.80" stroke="#c0c000" stroke-width="3.8" stroke-linecap="round"/>
<line x1="1013.05" y1="1497.80" x2="1019.25" y2="1497.80" stroke="#c0c000" stroke-width="3.8" stroke-linecap="round"/>
<line x1="1046.62" y1="1503.00" x2="1046.62" y2="1525.00" stroke="#c0c000" stroke-width="3.9" stroke-linecap="butt"/>
<line x1="1043.82" y1="1503.00" x2="1050.02" y2="1503.00" stroke="#c0c000" stroke-width="3.8" stroke-linecap="round"/>
<line x1="1043.82" y1="1525.00" x2="1050.02" y2="1525.00" stroke="#c0c000" stroke-width="3.8" stroke-linecap="round"/>
<line x1="1077.39" y1="1505.90" x2="1077.39" y2="1516.20" stroke="#c0c000" stroke-width="3.9" stroke-linecap="butt"/>
<line x1="1074.59" y1="1505.90" x2="1080.79" y2="1505.90" stroke="#c0c000" stroke-width="3.8" stroke-linecap="round"/>
<line x1="1074.59" y1="1516.20" x2="1080.79" y2="1516.20" stroke="#c0c000" stroke-width="3.8" stroke-linecap="round"/>
<line x1="1108.16" y1="1483.10" x2="1108.16" y2="1523.60" stroke="#c0c000" stroke-width="3.9" stroke-linecap="butt"/>
<line x1="1105.36" y1="1483.10" x2="1111.56" y2="1483.10" stroke="#c0c000" stroke-width="3.8" stroke-linecap="round"/>
<line x1="1105.36" y1="1523.60" x2="1111.56" y2="1523.60" stroke="#c0c000" stroke-width="3.8" stroke-linecap="round"/>
<line x1="1138.93" y1="1514.70" x2="1138.93" y2="1525.80" stroke="#c0c000" stroke-width="3.9" stroke-linecap="butt"/>
<line x1="1136.13" y1="1514.70" x2="1142.33" y2="1514.70" stroke="#c0c000" stroke-width="3.8" stroke-linecap="round"/>
<line x1="1136.13" y1="1525.80" x2="1142.33" y2="1525.80" stroke="#c0c000" stroke-width="3.8" stroke-linecap="round"/>
<line x1="1169.70" y1="1488.20" x2="1169.70" y2="1510.30" stroke="#c0c000" stroke-width="3.9" stroke-linecap="butt"/>
<line x1="1166.90" y1="1488.20" x2="1173.10" y2="1488.20" stroke="#c0c000" stroke-width="3.8" stroke-linecap="round"/>
<line x1="1166.90" y1="1510.30" x2="1173.10" y2="1510.30" stroke="#c0c000" stroke-width="3.8" stroke-linecap="round"/>
<line x1="1200.47" y1="1467.60" x2="1200.47" y2="1510.30" stroke="#c0c000" stroke-width="3.9" stroke-linecap="butt"/>
<line x1="1197.67" y1="1467.60" x2="1203.87" y2="1467.60" stroke="#c0c000" stroke-width="3.8" stroke-linecap="round"/>
<line x1="1197.67" y1="1510.30" x2="1203.87" y2="1510.30" stroke="#c0c000" stroke-width="3.8" stroke-linecap="round"/>
<line x1="1231.24" y1="1473.50" x2="1231.24" y2="1525.80" stroke="#c0c000" stroke-width="3.9" stroke-linecap="butt"/>
<line x1="1228.44" y1="1473.50" x2="1234.64" y2="1473.50" stroke="#c0c000" stroke-width="3.8" stroke-linecap="round"/>
<line x1="1228.44" y1="1525.80" x2="1234.64" y2="1525.80" stroke="#c0c000" stroke-width="3.8" stroke-linecap="round"/>
<line x1="1262.01" y1="1492.60" x2="1262.01" y2="1535.40" stroke="#c0c000" stroke-width="3.9" stroke-linecap="butt"/>
<line x1="1259.21" y1="1492.60" x2="1265.41" y2="1492.60" stroke="#c0c000" stroke-width="3.8" stroke-linecap="round"/>
<line x1="1259.21" y1="1535.40" x2="1265.41" y2="1535.40" stroke="#c0c000" stroke-width="3.8" stroke-linecap="round"/>
<line x1="1292.78" y1="1481.60" x2="1292.78" y2="1547.90" stroke="#c0c000" stroke-width="3.9" stroke-linecap="butt"/>
<line x1="1289.98" y1="1481.60" x2="1296.18" y2="1481.60" stroke="#c0c000" stroke-width="3.8" stroke-linecap="round"/>
<line x1="1289.98" y1="1547.90" x2="1296.18" y2="1547.90" stroke="#c0c000" stroke-width="3.8" stroke-linecap="round"/>
<line x1="1323.55" y1="1453.60" x2="1323.55" y2="1558.20" stroke="#c0c000" stroke-width="3.9" stroke-linecap="butt"/>
<line x1="1320.75" y1="1453.60" x2="1326.95" y2="1453.60" stroke="#c0c000" stroke-width="3.8" stroke-linecap="round"/>
<line x1="1320.75" y1="1558.20" x2="1326.95" y2="1558.20" stroke="#c0c000" stroke-width="3.8" stroke-linecap="round"/>
<line x1="1354.32" y1="1451.50" x2="1354.32" y2="1532.80" stroke="#c0c000" stroke-width="3.9" stroke-linecap="butt"/>
<line x1="1351.52" y1="1451.50" x2="1357.72" y2="1451.50" stroke="#c0c000" stroke-width="3.8" stroke-linecap="round"/>
<line x1="1351.52" y1="1532.80" x2="1357.72" y2="1532.80" stroke="#c0c000" stroke-width="3.8" stroke-linecap="round"/>
<line x1="1385.09" y1="1495.80" x2="1385.09" y2="1556.90" stroke="#c0c000" stroke-width="3.9" stroke-linecap="butt"/>
<line x1="1382.29" y1="1495.80" x2="1388.49" y2="1495.80" stroke="#c0c000" stroke-width="3.8" stroke-linecap="round"/>
<line x1="1382.29" y1="1556.90" x2="1388.49" y2="1556.90" stroke="#c0c000" stroke-width="3.8" stroke-linecap="round"/>
<line x1="1415.86" y1="1515.70" x2="1415.86" y2="1540.00" stroke="#c0c000" stroke-width="3.9" stroke-linecap="butt"/>
<line x1="1413.06" y1="1515.70" x2="1419.26" y2="1515.70" stroke="#c0c000" stroke-width="3.8" stroke-linecap="round"/>
<line x1="1413.06" y1="1540.00" x2="1419.26" y2="1540.00" stroke="#c0c000" stroke-width="3.8" stroke-linecap="round"/>
<line x1="1446.63" y1="1500.20" x2="1446.63" y2="1576.10" stroke="#c0c000" stroke-width="3.9" stroke-linecap="butt"/>
<line x1="1443.83" y1="1500.20" x2="1450.03" y2="1500.20" stroke="#c0c000" stroke-width="3.8" stroke-linecap="round"/>
<line x1="1443.83" y1="1576.10" x2="1450.03" y2="1576.10" stroke="#c0c000" stroke-width="3.8" stroke-linecap="round"/>
<polyline points="862.00,1463.00 892.77,1494.60 923.54,1461.90 954.31,1482.80 985.08,1477.30 1015.85,1493.40 1046.62,1514.00 1077.39,1509.60 1108.16,1503.00 1138.93,1517.70 1169.70,1499.30 1200.47,1489.00 1231.24,1500.00 1262.01,1514.00 1292.78,1514.70 1323.55,1505.20 1354.32,1492.00 1385.09,1525.20 1415.86,1528.20 1446.63,1537.80" fill="none" stroke="#c0c000" stroke-width="3.8" stroke-linejoin="miter" stroke-miterlimit="3"/>
<line x1="862.00" y1="1425.00" x2="862.00" y2="1510.10" stroke="#ff5a00" stroke-width="3.9" stroke-linecap="butt"/>
<line x1="859.20" y1="1425.00" x2="865.40" y2="1425.00" stroke="#ff5a00" stroke-width="3.8" stroke-linecap="round"/>
<line x1="859.20" y1="1510.10" x2="865.40" y2="1510.10" stroke="#ff5a00" stroke-width="3.8" stroke-linecap="round"/>
<line x1="892.77" y1="1514.40" x2="892.77" y2="1547.10" stroke="#ff5a00" stroke-width="3.9" stroke-linecap="butt"/>
<line x1="889.97" y1="1514.40" x2="896.17" y2="1514.40" stroke="#ff5a00" stroke-width="3.8" stroke-linecap="round"/>
<line x1="889.97" y1="1547.10" x2="896.17" y2="1547.10" stroke="#ff5a00" stroke-width="3.8" stroke-linecap="round"/>
<line x1="923.54" y1="1494.10" x2="923.54" y2="1525.60" stroke="#ff5a00" stroke-width="3.9" stroke-linecap="butt"/>
<line x1="920.74" y1="1494.10" x2="926.94" y2="1494.10" stroke="#ff5a00" stroke-width="3.8" stroke-linecap="round"/>
<line x1="920.74" y1="1525.60" x2="926.94" y2="1525.60" stroke="#ff5a00" stroke-width="3.8" stroke-linecap="round"/>
<line x1="954.31" y1="1500.00" x2="954.31" y2="1543.90" stroke="#ff5a00" stroke-width="3.9" stroke-linecap="butt"/>
<line x1="951.51" y1="1500.00" x2="957.71" y2="1500.00" stroke="#ff5a00" stroke-width="3.8" stroke-linecap="round"/>
<line x1="951.51" y1="1543.90" x2="957.71" y2="1543.90" stroke="#ff5a00" stroke-width="3.8" stroke-linecap="round"/>
<line x1="985.08" y1="1509.80" x2="985.08" y2="1554.50" stroke="#ff5a00" stroke-width="3.9" stroke-linecap="butt"/>
<line x1="982.28" y1="1509.80" x2="988.48" y2="1509.80" stroke="#ff5a00" stroke-width="3.8" stroke-linecap="round"/>
<line x1="982.28" y1="1554.50" x2="988.48" y2="1554.50" stroke="#ff5a00" stroke-width="3.8" stroke-linecap="round"/>
<line x1="1015.85" y1="1474.20" x2="1015.85" y2="1558.90" stroke="#ff5a00" stroke-width="3.9" stroke-linecap="butt"/>
<line x1="1013.05" y1="1474.20" x2="1019.25" y2="1474.20" stroke="#ff5a00" stroke-width="3.8" stroke-linecap="round"/>
<line x1="1013.05" y1="1558.90" x2="1019.25" y2="1558.90" stroke="#ff5a00" stroke-width="3.8" stroke-linecap="round"/>
<line x1="1046.62" y1="1510.30" x2="1046.62" y2="1558.20" stroke="#ff5a00" stroke-width="3.9" stroke-linecap="butt"/>
<line x1="1043.82" y1="1510.30" x2="1050.02" y2="1510.30" stroke="#ff5a00" stroke-width="3.8" stroke-linecap="round"/>
<line x1="1043.82" y1="1558.20" x2="1050.02" y2="1558.20" stroke="#ff5a00" stroke-width="3.8" stroke-linecap="round"/>
<line x1="1077.39" y1="1528.00" x2="1077.39" y2="1577.30" stroke="#ff5a00" stroke-width="3.9" stroke-linecap="butt"/>
<line x1="1074.59" y1="1528.00" x2="1080.79" y2="1528.00" stroke="#ff5a00" stroke-width="3.8" stroke-linecap="round"/>
<line x1="1074.59" y1="1577.30" x2="1080.79" y2="1577.30" stroke="#ff5a00" stroke-width="3.8" stroke-linecap="round"/>
<line x1="1108.16" y1="1490.40" x2="1108.16" y2="1567.70" stroke="#ff5a00" stroke-width="3.9" stroke-linecap="butt"/>
<line x1="1105.36" y1="1490.40" x2="1111.56" y2="1490.40" stroke="#ff5a00" stroke-width="3.8" stroke-linecap="round"/>
<line x1="1105.36" y1="1567.70" x2="1111.56" y2="1567.70" stroke="#ff5a00" stroke-width="3.8" stroke-linecap="round"/>
<line x1="1138.93" y1="1519.90" x2="1138.93" y2="1550.80" stroke="#ff5a00" stroke-width="3.9" stroke-linecap="butt"/>
<line x1="1136.13" y1="1519.90" x2="1142.33" y2="1519.90" stroke="#ff5a00" stroke-width="3.8" stroke-linecap="round"/>
<line x1="1136.13" y1="1550.80" x2="1142.33" y2="1550.80" stroke="#ff5a00" stroke-width="3.8" stroke-linecap="round"/>
<line x1="1169.70" y1="1455.80" x2="1169.70" y2="1578.10" stroke="#ff5a00" stroke-width="3.9" stroke-linecap="butt"/>
<line x1="1166.90" y1="1455.80" x2="1173.10" y2="1455.80" stroke="#ff5a00" stroke-width="3.8" stroke-linecap="round"/>
<line x1="1166.90" y1="1578.10" x2="1173.10" y2="1578.10" stroke="#ff5a00" stroke-width="3.8" stroke-linecap="round"/>
<line x1="1200.47" y1="1542.70" x2="1200.47" y2="1572.20" stroke="#ff5a00" stroke-width="3.9" stroke-linecap="butt"/>
<line x1="1197.67" y1="1542.70" x2="1203.87" y2="1542.70" stroke="#ff5a00" stroke-width="3.8" stroke-linecap="round"/>
<line x1="1197.67" y1="1572.20" x2="1203.87" y2="1572.20" stroke="#ff5a00" stroke-width="3.8" stroke-linecap="round"/>
<line x1="1231.24" y1="1571.50" x2="1231.24" y2="1589.10" stroke="#ff5a00" stroke-width="3.9" stroke-linecap="butt"/>
<line x1="1228.44" y1="1571.50" x2="1234.64" y2="1571.50" stroke="#ff5a00" stroke-width="3.8" stroke-linecap="round"/>
<line x1="1228.44" y1="1589.10" x2="1234.64" y2="1589.10" stroke="#ff5a00" stroke-width="3.8" stroke-linecap="round"/>
<line x1="1262.01" y1="1534.60" x2="1262.01" y2="1581.00" stroke="#ff5a00" stroke-width="3.9" stroke-linecap="butt"/>
<line x1="1259.21" y1="1534.60" x2="1265.41" y2="1534.60" stroke="#ff5a00" stroke-width="3.8" stroke-linecap="round"/>
<line x1="1259.21" y1="1581.00" x2="1265.41" y2="1581.00" stroke="#ff5a00" stroke-width="3.8" stroke-linecap="round"/>
<line x1="1292.78" y1="1502.20" x2="1292.78" y2="1579.50" stroke="#ff5a00" stroke-width="3.9" stroke-linecap="butt"/>
<line x1="1289.98" y1="1502.20" x2="1296.18" y2="1502.20" stroke="#ff5a00" stroke-width="3.8" stroke-linecap="round"/>
<line x1="1289.98" y1="1579.50" x2="1296.18" y2="1579.50" stroke="#ff5a00" stroke-width="3.8" stroke-linecap="round"/>
<line x1="1323.55" y1="1522.80" x2="1323.55" y2="1583.90" stroke="#ff5a00" stroke-width="3.9" stroke-linecap="butt"/>
<line x1="1320.75" y1="1522.80" x2="1326.95" y2="1522.80" stroke="#ff5a00" stroke-width="3.8" stroke-linecap="round"/>
<line x1="1320.75" y1="1583.90" x2="1326.95" y2="1583.90" stroke="#ff5a00" stroke-width="3.8" stroke-linecap="round"/>
<line x1="1354.32" y1="1564.50" x2="1354.32" y2="1608.00" stroke="#ff5a00" stroke-width="3.9" stroke-linecap="butt"/>
<line x1="1351.52" y1="1564.50" x2="1357.72" y2="1564.50" stroke="#ff5a00" stroke-width="3.8" stroke-linecap="round"/>
<line x1="1351.52" y1="1608.00" x2="1357.72" y2="1608.00" stroke="#ff5a00" stroke-width="3.8" stroke-linecap="round"/>
<line x1="1385.09" y1="1529.70" x2="1385.09" y2="1594.50" stroke="#ff5a00" stroke-width="3.9" stroke-linecap="butt"/>
<line x1="1382.29" y1="1529.70" x2="1388.49" y2="1529.70" stroke="#ff5a00" stroke-width="3.8" stroke-linecap="round"/>
<line x1="1382.29" y1="1594.50" x2="1388.49" y2="1594.50" stroke="#ff5a00" stroke-width="3.8" stroke-linecap="round"/>
<line x1="1415.86" y1="1545.90" x2="1415.86" y2="1610.70" stroke="#ff5a00" stroke-width="3.9" stroke-linecap="butt"/>
<line x1="1413.06" y1="1545.90" x2="1419.26" y2="1545.90" stroke="#ff5a00" stroke-width="3.8" stroke-linecap="round"/>
<line x1="1413.06" y1="1610.70" x2="1419.26" y2="1610.70" stroke="#ff5a00" stroke-width="3.8" stroke-linecap="round"/>
<line x1="1446.63" y1="1585.70" x2="1446.63" y2="1629.90" stroke="#ff5a00" stroke-width="3.9" stroke-linecap="butt"/>
<line x1="1443.83" y1="1585.70" x2="1450.03" y2="1585.70" stroke="#ff5a00" stroke-width="3.8" stroke-linecap="round"/>
<line x1="1443.83" y1="1629.90" x2="1450.03" y2="1629.90" stroke="#ff5a00" stroke-width="3.8" stroke-linecap="round"/>
<polyline points="862.00,1467.50 892.77,1529.90 923.54,1510.10 954.31,1521.90 985.08,1530.40 1015.85,1516.90 1046.62,1534.60 1077.39,1552.30 1108.16,1529.50 1138.93,1535.40 1169.70,1516.90 1200.47,1557.40 1231.24,1580.30 1262.01,1557.40 1292.78,1541.20 1323.55,1553.00 1354.32,1583.30 1385.09,1561.30 1415.86,1578.30 1446.63,1604.10" fill="none" stroke="#ff5a00" stroke-width="3.8" stroke-linejoin="miter" stroke-miterlimit="3"/>
<line x1="862.00" y1="1473.70" x2="862.00" y2="1541.70" stroke="#9c0000" stroke-width="3.9" stroke-linecap="butt"/>
<line x1="859.20" y1="1473.70" x2="865.40" y2="1473.70" stroke="#9c0000" stroke-width="3.8" stroke-linecap="round"/>
<line x1="859.20" y1="1541.70" x2="865.40" y2="1541.70" stroke="#9c0000" stroke-width="3.8" stroke-linecap="round"/>
<line x1="892.77" y1="1520.80" x2="892.77" y2="1549.70" stroke="#9c0000" stroke-width="3.9" stroke-linecap="butt"/>
<line x1="889.97" y1="1520.80" x2="896.17" y2="1520.80" stroke="#9c0000" stroke-width="3.8" stroke-linecap="round"/>
<line x1="889.97" y1="1549.70" x2="896.17" y2="1549.70" stroke="#9c0000" stroke-width="3.8" stroke-linecap="round"/>
<line x1="923.54" y1="1536.40" x2="923.54" y2="1541.20" stroke="#9c0000" stroke-width="3.9" stroke-linecap="butt"/>
<line x1="920.74" y1="1536.40" x2="926.94" y2="1536.40" stroke="#9c0000" stroke-width="3.8" stroke-linecap="round"/>
<line x1="920.74" y1="1541.20" x2="926.94" y2="1541.20" stroke="#9c0000" stroke-width="3.8" stroke-linecap="round"/>
<line x1="954.31" y1="1503.70" x2="954.31" y2="1597.00" stroke="#9c0000" stroke-width="3.9" stroke-linecap="butt"/>
<line x1="951.51" y1="1503.70" x2="957.71" y2="1503.70" stroke="#9c0000" stroke-width="3.8" stroke-linecap="round"/>
<line x1="951.51" y1="1597.00" x2="957.71" y2="1597.00" stroke="#9c0000" stroke-width="3.8" stroke-linecap="round"/>
<line x1="985.08" y1="1534.00" x2="985.08" y2="1565.50" stroke="#9c0000" stroke-width="3.9" stroke-linecap="butt"/>
<line x1="982.28" y1="1534.00" x2="988.48" y2="1534.00" stroke="#9c0000" stroke-width="3.8" stroke-linecap="round"/>
<line x1="982.28" y1="1565.50" x2="988.48" y2="1565.50" stroke="#9c0000" stroke-width="3.8" stroke-linecap="round"/>
<line x1="1015.85" y1="1531.70" x2="1015.85" y2="1570.70" stroke="#9c0000" stroke-width="3.9" stroke-linecap="butt"/>
<line x1="1013.05" y1="1531.70" x2="1019.25" y2="1531.70" stroke="#9c0000" stroke-width="3.8" stroke-linecap="round"/>
<line x1="1013.05" y1="1570.70" x2="1019.25" y2="1570.70" stroke="#9c0000" stroke-width="3.8" stroke-linecap="round"/>
<line x1="1046.62" y1="1539.00" x2="1046.62" y2="1565.50" stroke="#9c0000" stroke-width="3.9" stroke-linecap="butt"/>
<line x1="1043.82" y1="1539.00" x2="1050.02" y2="1539.00" stroke="#9c0000" stroke-width="3.8" stroke-linecap="round"/>
<line x1="1043.82" y1="1565.50" x2="1050.02" y2="1565.50" stroke="#9c0000" stroke-width="3.8" stroke-linecap="round"/>
<line x1="1077.39" y1="1514.00" x2="1077.39" y2="1598.70" stroke="#9c0000" stroke-width="3.9" stroke-linecap="butt"/>
<line x1="1074.59" y1="1514.00" x2="1080.79" y2="1514.00" stroke="#9c0000" stroke-width="3.8" stroke-linecap="round"/>
<line x1="1074.59" y1="1598.70" x2="1080.79" y2="1598.70" stroke="#9c0000" stroke-width="3.8" stroke-linecap="round"/>
<line x1="1108.16" y1="1528.70" x2="1108.16" y2="1634.80" stroke="#9c0000" stroke-width="3.9" stroke-linecap="butt"/>
<line x1="1105.36" y1="1528.70" x2="1111.56" y2="1528.70" stroke="#9c0000" stroke-width="3.8" stroke-linecap="round"/>
<line x1="1105.36" y1="1634.80" x2="1111.56" y2="1634.80" stroke="#9c0000" stroke-width="3.8" stroke-linecap="round"/>
<line x1="1138.93" y1="1587.60" x2="1138.93" y2="1611.20" stroke="#9c0000" stroke-width="3.9" stroke-linecap="butt"/>
<line x1="1136.13" y1="1587.60" x2="1142.33" y2="1587.60" stroke="#9c0000" stroke-width="3.8" stroke-linecap="round"/>
<line x1="1136.13" y1="1611.20" x2="1142.33" y2="1611.20" stroke="#9c0000" stroke-width="3.8" stroke-linecap="round"/>
<line x1="1169.70" y1="1584.70" x2="1169.70" y2="1610.50" stroke="#9c0000" stroke-width="3.9" stroke-linecap="butt"/>
<line x1="1166.90" y1="1584.70" x2="1173.10" y2="1584.70" stroke="#9c0000" stroke-width="3.8" stroke-linecap="round"/>
<line x1="1166.90" y1="1610.50" x2="1173.10" y2="1610.50" stroke="#9c0000" stroke-width="3.8" stroke-linecap="round"/>
<line x1="1200.47" y1="1550.80" x2="1200.47" y2="1593.50" stroke="#9c0000" stroke-width="3.9" stroke-linecap="butt"/>
<line x1="1197.67" y1="1550.80" x2="1203.87" y2="1550.80" stroke="#9c0000" stroke-width="3.8" stroke-linecap="round"/>
<line x1="1197.67" y1="1593.50" x2="1203.87" y2="1593.50" stroke="#9c0000" stroke-width="3.8" stroke-linecap="round"/>
<line x1="1231.24" y1="1592.80" x2="1231.24" y2="1597.20" stroke="#9c0000" stroke-width="3.9" stroke-linecap="butt"/>
<line x1="1228.44" y1="1592.80" x2="1234.64" y2="1592.80" stroke="#9c0000" stroke-width="3.8" stroke-linecap="round"/>
<line x1="1228.44" y1="1597.20" x2="1234.64" y2="1597.20" stroke="#9c0000" stroke-width="3.8" stroke-linecap="round"/>
<line x1="1262.01" y1="1572.90" x2="1262.01" y2="1604.60" stroke="#9c0000" stroke-width="3.9" stroke-linecap="butt"/>
<line x1="1259.21" y1="1572.90" x2="1265.41" y2="1572.90" stroke="#9c0000" stroke-width="3.8" stroke-linecap="round"/>
<line x1="1259.21" y1="1604.60" x2="1265.41" y2="1604.60" stroke="#9c0000" stroke-width="3.8" stroke-linecap="round"/>
<line x1="1292.78" y1="1551.60" x2="1292.78" y2="1613.40" stroke="#9c0000" stroke-width="3.9" stroke-linecap="butt"/>
<line x1="1289.98" y1="1551.60" x2="1296.18" y2="1551.60" stroke="#9c0000" stroke-width="3.8" stroke-linecap="round"/>
<line x1="1289.98" y1="1613.40" x2="1296.18" y2="1613.40" stroke="#9c0000" stroke-width="3.8" stroke-linecap="round"/>
<line x1="1323.55" y1="1580.30" x2="1323.55" y2="1609.70" stroke="#9c0000" stroke-width="3.9" stroke-linecap="butt"/>
<line x1="1320.75" y1="1580.30" x2="1326.95" y2="1580.30" stroke="#9c0000" stroke-width="3.8" stroke-linecap="round"/>
<line x1="1320.75" y1="1609.70" x2="1326.95" y2="1609.70" stroke="#9c0000" stroke-width="3.8" stroke-linecap="round"/>
<line x1="1354.32" y1="1584.00" x2="1354.32" y2="1637.50" stroke="#9c0000" stroke-width="3.9" stroke-linecap="butt"/>
<line x1="1351.52" y1="1584.00" x2="1357.72" y2="1584.00" stroke="#9c0000" stroke-width="3.8" stroke-linecap="round"/>
<line x1="1351.52" y1="1637.50" x2="1357.72" y2="1637.50" stroke="#9c0000" stroke-width="3.8" stroke-linecap="round"/>
<line x1="1385.09" y1="1581.20" x2="1385.09" y2="1644.60" stroke="#9c0000" stroke-width="3.9" stroke-linecap="butt"/>
<line x1="1382.29" y1="1581.20" x2="1388.49" y2="1581.20" stroke="#9c0000" stroke-width="3.8" stroke-linecap="round"/>
<line x1="1382.29" y1="1644.60" x2="1388.49" y2="1644.60" stroke="#9c0000" stroke-width="3.8" stroke-linecap="round"/>
<line x1="1415.86" y1="1621.00" x2="1415.86" y2="1677.00" stroke="#9c0000" stroke-width="3.9" stroke-linecap="butt"/>
<line x1="1413.06" y1="1621.00" x2="1419.26" y2="1621.00" stroke="#9c0000" stroke-width="3.8" stroke-linecap="round"/>
<line x1="1413.06" y1="1677.00" x2="1419.26" y2="1677.00" stroke="#9c0000" stroke-width="3.8" stroke-linecap="round"/>
<line x1="1446.63" y1="1605.50" x2="1446.63" y2="1666.70" stroke="#9c0000" stroke-width="3.9" stroke-linecap="butt"/>
<line x1="1443.83" y1="1605.50" x2="1450.03" y2="1605.50" stroke="#9c0000" stroke-width="3.8" stroke-linecap="round"/>
<line x1="1443.83" y1="1666.70" x2="1450.03" y2="1666.70" stroke="#9c0000" stroke-width="3.8" stroke-linecap="round"/>
<polyline points="862.00,1509.00 892.77,1534.20 923.54,1538.50 954.31,1550.30 985.08,1549.60 1015.85,1551.60 1046.62,1552.30 1077.39,1556.00 1108.16,1582.50 1138.93,1599.40 1169.70,1597.20 1200.47,1572.20 1231.24,1595.00 1262.01,1588.40 1292.78,1582.50 1323.55,1594.30 1354.32,1610.30 1385.09,1612.90 1415.86,1648.30 1446.63,1635.70" fill="none" stroke="#9c0000" stroke-width="3.8" stroke-linejoin="miter" stroke-miterlimit="3"/>
<text transform="translate(521.50 1359.90)" font-size="30.3" font-weight="normal" text-anchor="start" fill="#000">Octanoic acid:</text>
<line x1="525.50" y1="1391.70" x2="570.70" y2="1391.70" stroke="#000000" stroke-width="3.7" stroke-linecap="butt"/>
<g transform="translate(699.50 1402.70) scale(0.965 1.0)" fill="#000"><text x="-94.77" y="0" font-size="31" font-weight="normal" style="white-space:pre">0 mg L</text></g>
<g transform="translate(700.50 1393.80) scale(0.95 1.0)" fill="#000"><text x="0.00" y="0" font-size="20" font-weight="normal" style="white-space:pre">-</text><path transform="translate(6.66 0) scale(0.00977 -0.00977)" d="M741 0H566V1090Q505 1035 405 978Q305 921 223 893V1060Q370 1125 478 1222Q586 1319 630 1409H741Z"/></g>
<line x1="525.50" y1="1433.00" x2="570.70" y2="1433.00" stroke="#c0c000" stroke-width="3.7" stroke-linecap="butt"/>
<g transform="translate(699.50 1444.00) scale(0.965 1.0)" fill="#000"><text x="-112.01" y="0" font-size="31" font-weight="normal" style="white-space:pre">50 mg L</text></g>
<g transform="translate(700.50 1435.10) scale(0.95 1.0)" fill="#000"><text x="0.00" y="0" font-size="20" font-weight="normal" style="white-space:pre">-</text><path transform="translate(6.66 0) scale(0.00977 -0.00977)" d="M741 0H566V1090Q505 1035 405 978Q305 921 223 893V1060Q370 1125 478 1222Q586 1319 630 1409H741Z"/></g>
<line x1="525.50" y1="1474.30" x2="570.70" y2="1474.30" stroke="#ff5a00" stroke-width="3.7" stroke-linecap="butt"/>
<g transform="translate(699.50 1485.30) scale(0.965 1.0)" fill="#000"><path transform="translate(-129.25 0) scale(0.01514 -0.01514)" d="M741 0H566V1090Q505 1035 405 978Q305 921 223 893V1060Q370 1125 478 1222Q586 1319 630 1409H741Z"/><text x="-112.01" y="0" font-size="31" font-weight="normal" style="white-space:pre">00 mg L</text></g>
<g transform="translate(700.50 1476.40) scale(0.95 1.0)" fill="#000"><text x="0.00" y="0" font-size="20" font-weight="normal" style="white-space:pre">-</text><path transform="translate(6.66 0) scale(0.00977 -0.00977)" d="M741 0H566V1090Q505 1035 405 978Q305 921 223 893V1060Q370 1125 478 1222Q586 1319 630 1409H741Z"/></g>
<line x1="525.50" y1="1515.60" x2="570.70" y2="1515.60" stroke="#9c0000" stroke-width="3.7" stroke-linecap="butt"/>
<g transform="translate(699.50 1526.60) scale(0.965 1.0)" fill="#000"><path transform="translate(-129.25 0) scale(0.01514 -0.01514)" d="M741 0H566V1090Q505 1035 405 978Q305 921 223 893V1060Q370 1125 478 1222Q586 1319 630 1409H741Z"/><text x="-112.01" y="0" font-size="31" font-weight="normal" style="white-space:pre">50 mg L</text></g>
<g transform="translate(700.50 1517.70) scale(0.95 1.0)" fill="#000"><text x="0.00" y="0" font-size="20" font-weight="normal" style="white-space:pre">-</text><path transform="translate(6.66 0) scale(0.00977 -0.00977)" d="M741 0H566V1090Q505 1035 405 978Q305 921 223 893V1060Q370 1125 478 1222Q586 1319 630 1409H741Z"/></g>
</svg></body></html>
